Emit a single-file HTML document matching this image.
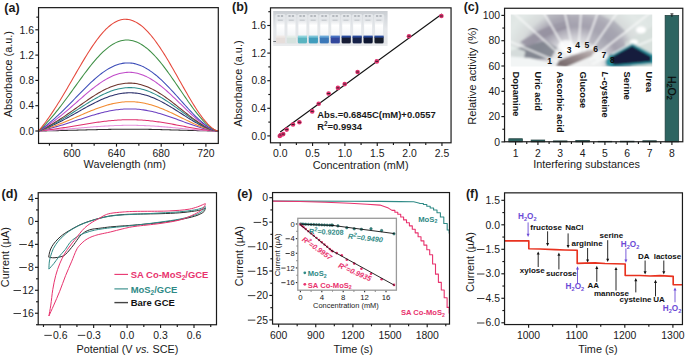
<!DOCTYPE html>
<html><head><meta charset="utf-8"><style>
html,body{margin:0;padding:0;background:#fff;overflow:hidden;width:685px;height:356px;}
svg{display:block;font-family:"Liberation Sans", sans-serif;}
</style></head><body>
<svg width="685" height="356" viewBox="0 0 685 356">
<rect width="685" height="356" fill="#fff"/>
<text x="4.30" y="11.50" font-size="12.5" text-anchor="start" font-weight="bold" fill="#1a1a1a" >(a)</text>
<polyline points="38.55,131.00 40.05,130.97 41.55,130.95 43.04,130.92 44.54,130.89 46.04,130.87 47.54,130.84 49.04,130.81 50.53,130.78 52.03,130.74 53.53,130.71 55.03,130.68 56.52,130.64 58.02,130.61 59.52,130.57 61.02,130.54 62.52,130.50 64.01,130.46 65.51,130.43 67.01,130.39 68.51,130.35 70.01,130.31 71.50,130.27 73.00,130.23 74.50,130.19 76.00,130.15 77.50,130.11 78.99,130.07 80.49,130.03 81.99,129.99 83.49,129.95 84.99,129.91 86.48,129.88 87.98,129.84 89.48,129.80 90.98,129.76 92.47,129.72 93.97,129.69 95.47,129.65 96.97,129.62 98.47,129.58 99.96,129.55 101.46,129.52 102.96,129.49 104.46,129.46 105.96,129.43 107.45,129.41 108.95,129.38 110.45,129.36 111.95,129.33 113.45,129.31 114.94,129.29 116.44,129.28 117.94,129.26 119.44,129.25 120.94,129.23 122.43,129.22 123.93,129.22 125.43,129.21 126.93,129.20 128.43,129.20 129.92,129.20 131.42,129.20 132.92,129.20 134.42,129.21 135.91,129.22 137.41,129.22 138.91,129.24 140.41,129.25 141.91,129.26 143.40,129.28 144.90,129.30 146.40,129.32 147.90,129.34 149.40,129.37 150.89,129.39 152.39,129.42 153.89,129.45 155.39,129.48 156.89,129.51 158.38,129.55 159.88,129.58 161.38,129.62 162.88,129.65 164.38,129.69 165.87,129.73 167.37,129.77 168.87,129.81 170.37,129.86 171.86,129.90 173.36,129.94 174.86,129.99 176.36,130.03 177.86,130.08 179.35,130.12 180.85,130.17 182.35,130.21 183.85,130.26 185.35,130.30 186.84,130.35 188.34,130.39 189.84,130.43 191.34,130.48 192.84,130.52 194.33,130.56 195.83,130.60 197.33,130.64 198.83,130.68 200.32,130.72 201.82,130.75 203.32,130.79 204.82,130.82 206.32,130.85 207.81,130.88 209.31,130.90 210.81,130.93 212.31,130.95 213.81,130.97 215.30,130.98 216.80,130.99 218.30,131.00" fill="none" stroke="#333333" stroke-width="1.05" stroke-linejoin="round" />
<polyline points="38.55,131.00 40.05,130.92 41.55,130.84 43.04,130.75 44.54,130.67 46.04,130.58 47.54,130.48 49.04,130.39 50.53,130.29 52.03,130.19 53.53,130.09 55.03,129.98 56.52,129.87 58.02,129.76 59.52,129.65 61.02,129.54 62.52,129.42 64.01,129.30 65.51,129.19 67.01,129.07 68.51,128.94 70.01,128.82 71.50,128.70 73.00,128.57 74.50,128.45 76.00,128.32 77.50,128.19 78.99,128.07 80.49,127.94 81.99,127.81 83.49,127.69 84.99,127.56 86.48,127.44 87.98,127.32 89.48,127.20 90.98,127.08 92.47,126.96 93.97,126.85 95.47,126.73 96.97,126.62 98.47,126.52 99.96,126.41 101.46,126.31 102.96,126.22 104.46,126.12 105.96,126.03 107.45,125.95 108.95,125.87 110.45,125.79 111.95,125.72 113.45,125.66 114.94,125.60 116.44,125.54 117.94,125.49 119.44,125.45 120.94,125.41 122.43,125.38 123.93,125.35 125.43,125.33 126.93,125.31 128.43,125.30 129.92,125.30 131.42,125.30 132.92,125.31 134.42,125.33 135.91,125.35 137.41,125.38 138.91,125.41 140.41,125.46 141.91,125.50 143.40,125.56 144.90,125.62 146.40,125.68 147.90,125.75 149.40,125.83 150.89,125.91 152.39,126.00 153.89,126.09 155.39,126.19 156.89,126.29 158.38,126.39 159.88,126.51 161.38,126.62 162.88,126.74 164.38,126.86 165.87,126.99 167.37,127.11 168.87,127.25 170.37,127.38 171.86,127.52 173.36,127.65 174.86,127.79 176.36,127.93 177.86,128.08 179.35,128.22 180.85,128.36 182.35,128.50 183.85,128.65 185.35,128.79 186.84,128.93 188.34,129.07 189.84,129.21 191.34,129.35 192.84,129.48 194.33,129.61 195.83,129.74 197.33,129.87 198.83,129.99 200.32,130.11 201.82,130.22 203.32,130.33 204.82,130.43 206.32,130.53 207.81,130.62 209.31,130.70 210.81,130.77 212.31,130.84 213.81,130.90 215.30,130.95 216.80,130.98 218.30,131.00" fill="none" stroke="#e592dc" stroke-width="1.05" stroke-linejoin="round" />
<polyline points="38.55,131.00 40.05,130.84 41.55,130.68 43.04,130.51 44.54,130.34 46.04,130.16 47.54,129.98 49.04,129.79 50.53,129.59 52.03,129.39 53.53,129.19 55.03,128.98 56.52,128.77 58.02,128.55 59.52,128.33 61.02,128.10 62.52,127.87 64.01,127.64 65.51,127.40 67.01,127.16 68.51,126.92 70.01,126.68 71.50,126.43 73.00,126.18 74.50,125.93 76.00,125.68 77.50,125.43 78.99,125.18 80.49,124.93 81.99,124.68 83.49,124.43 84.99,124.19 86.48,123.94 87.98,123.70 89.48,123.46 90.98,123.22 92.47,122.99 93.97,122.76 95.47,122.54 96.97,122.32 98.47,122.11 99.96,121.91 101.46,121.71 102.96,121.52 104.46,121.33 105.96,121.16 107.45,120.99 108.95,120.83 110.45,120.68 111.95,120.54 113.45,120.41 114.94,120.29 116.44,120.18 117.94,120.08 119.44,119.99 120.94,119.92 122.43,119.85 123.93,119.80 125.43,119.76 126.93,119.73 128.43,119.71 129.92,119.70 131.42,119.71 132.92,119.72 134.42,119.76 135.91,119.80 137.41,119.86 138.91,119.93 140.41,120.01 141.91,120.10 143.40,120.21 144.90,120.32 146.40,120.45 147.90,120.59 149.40,120.75 150.89,120.91 152.39,121.08 153.89,121.26 155.39,121.46 156.89,121.66 158.38,121.87 159.88,122.09 161.38,122.32 162.88,122.55 164.38,122.79 165.87,123.04 167.37,123.30 168.87,123.56 170.37,123.82 171.86,124.09 173.36,124.36 174.86,124.64 176.36,124.92 177.86,125.20 179.35,125.48 180.85,125.77 182.35,126.05 183.85,126.34 185.35,126.62 186.84,126.90 188.34,127.18 189.84,127.45 191.34,127.72 192.84,127.99 194.33,128.25 195.83,128.50 197.33,128.75 198.83,128.99 200.32,129.23 201.82,129.45 203.32,129.66 204.82,129.87 206.32,130.06 207.81,130.24 209.31,130.40 210.81,130.55 212.31,130.69 213.81,130.80 215.30,130.90 216.80,130.97 218.30,131.00" fill="none" stroke="#e0306e" stroke-width="1.05" stroke-linejoin="round" />
<polyline points="38.55,131.00 40.05,130.69 41.55,130.37 43.04,130.04 44.54,129.70 46.04,129.36 47.54,129.00 49.04,128.63 50.53,128.25 52.03,127.86 53.53,127.46 55.03,127.05 56.52,126.63 58.02,126.21 59.52,125.77 61.02,125.33 62.52,124.88 64.01,124.43 65.51,123.97 67.01,123.50 68.51,123.03 70.01,122.55 71.50,122.07 73.00,121.58 74.50,121.09 76.00,120.60 77.50,120.11 78.99,119.62 80.49,119.13 81.99,118.65 83.49,118.16 84.99,117.68 86.48,117.20 87.98,116.72 89.48,116.25 90.98,115.79 92.47,115.34 93.97,114.89 95.47,114.46 96.97,114.03 98.47,113.62 99.96,113.21 101.46,112.83 102.96,112.45 104.46,112.09 105.96,111.75 107.45,111.42 108.95,111.11 110.45,110.82 111.95,110.54 113.45,110.29 114.94,110.05 116.44,109.84 117.94,109.65 119.44,109.47 120.94,109.32 122.43,109.20 123.93,109.09 125.43,109.01 126.93,108.95 128.43,108.91 129.92,108.90 131.42,108.91 132.92,108.95 134.42,109.01 135.91,109.10 137.41,109.21 138.91,109.34 140.41,109.50 141.91,109.68 143.40,109.89 144.90,110.12 146.40,110.38 147.90,110.65 149.40,110.95 150.89,111.26 152.39,111.60 153.89,111.96 155.39,112.34 156.89,112.73 158.38,113.14 159.88,113.57 161.38,114.02 162.88,114.48 164.38,114.95 165.87,115.44 167.37,115.93 168.87,116.44 170.37,116.96 171.86,117.49 173.36,118.02 174.86,118.56 176.36,119.11 177.86,119.66 179.35,120.21 180.85,120.77 182.35,121.32 183.85,121.88 185.35,122.43 186.84,122.98 188.34,123.52 189.84,124.06 191.34,124.59 192.84,125.11 194.33,125.62 195.83,126.12 197.33,126.60 198.83,127.08 200.32,127.53 201.82,127.97 203.32,128.39 204.82,128.78 206.32,129.16 207.81,129.51 209.31,129.83 210.81,130.13 212.31,130.39 213.81,130.61 215.30,130.80 216.80,130.93 218.30,131.00" fill="none" stroke="#6b3fc1" stroke-width="1.05" stroke-linejoin="round" />
<polyline points="38.55,131.00 40.05,130.59 41.55,130.17 43.04,129.73 44.54,129.28 46.04,128.82 47.54,128.34 49.04,127.85 50.53,127.35 52.03,126.83 53.53,126.30 55.03,125.76 56.52,125.21 58.02,124.65 59.52,124.07 61.02,123.49 62.52,122.89 64.01,122.29 65.51,121.67 67.01,121.05 68.51,120.43 70.01,119.79 71.50,119.16 73.00,118.51 74.50,117.87 76.00,117.22 77.50,116.57 78.99,115.92 80.49,115.27 81.99,114.62 83.49,113.98 84.99,113.33 86.48,112.70 87.98,112.07 89.48,111.45 90.98,110.84 92.47,110.23 93.97,109.64 95.47,109.07 96.97,108.50 98.47,107.95 99.96,107.42 101.46,106.90 102.96,106.41 104.46,105.93 105.96,105.47 107.45,105.04 108.95,104.63 110.45,104.24 111.95,103.88 113.45,103.54 114.94,103.23 116.44,102.94 117.94,102.69 119.44,102.46 120.94,102.26 122.43,102.09 123.93,101.95 125.43,101.84 126.93,101.76 128.43,101.72 129.92,101.70 131.42,101.71 132.92,101.76 134.42,101.84 135.91,101.96 137.41,102.11 138.91,102.29 140.41,102.50 141.91,102.74 143.40,103.02 144.90,103.32 146.40,103.66 147.90,104.02 149.40,104.41 150.89,104.83 152.39,105.28 153.89,105.76 155.39,106.26 156.89,106.78 158.38,107.33 159.88,107.90 161.38,108.49 162.88,109.09 164.38,109.72 165.87,110.37 167.37,111.03 168.87,111.70 170.37,112.39 171.86,113.09 173.36,113.80 174.86,114.51 176.36,115.24 177.86,115.97 179.35,116.70 180.85,117.43 182.35,118.17 183.85,118.90 185.35,119.64 186.84,120.36 188.34,121.08 189.84,121.80 191.34,122.50 192.84,123.19 194.33,123.87 195.83,124.53 197.33,125.17 198.83,125.80 200.32,126.40 201.82,126.98 203.32,127.54 204.82,128.06 206.32,128.56 207.81,129.02 209.31,129.45 210.81,129.84 212.31,130.19 213.81,130.49 215.30,130.73 216.80,130.91 218.30,131.00" fill="none" stroke="#f28a2e" stroke-width="1.05" stroke-linejoin="round" />
<polyline points="38.55,131.00 40.05,130.47 41.55,129.92 43.04,129.35 44.54,128.76 46.04,128.16 47.54,127.54 49.04,126.90 50.53,126.24 52.03,125.57 53.53,124.88 55.03,124.17 56.52,123.45 58.02,122.72 59.52,121.97 61.02,121.20 62.52,120.43 64.01,119.64 65.51,118.84 67.01,118.03 68.51,117.22 70.01,116.39 71.50,115.56 73.00,114.72 74.50,113.88 76.00,113.03 77.50,112.18 78.99,111.34 80.49,110.49 81.99,109.64 83.49,108.80 84.99,107.97 86.48,107.14 87.98,106.32 89.48,105.51 90.98,104.71 92.47,103.93 93.97,103.16 95.47,102.40 96.97,101.67 98.47,100.95 99.96,100.26 101.46,99.59 102.96,98.94 104.46,98.32 105.96,97.72 107.45,97.15 108.95,96.62 110.45,96.11 111.95,95.64 113.45,95.20 114.94,94.79 116.44,94.42 117.94,94.09 119.44,93.79 120.94,93.53 122.43,93.31 123.93,93.13 125.43,92.99 126.93,92.88 128.43,92.82 129.92,92.80 131.42,92.82 132.92,92.88 134.42,92.99 135.91,93.14 137.41,93.33 138.91,93.56 140.41,93.84 141.91,94.16 143.40,94.51 144.90,94.91 146.40,95.35 147.90,95.83 149.40,96.34 150.89,96.89 152.39,97.47 153.89,98.09 155.39,98.74 156.89,99.42 158.38,100.14 159.88,100.88 161.38,101.65 162.88,102.44 164.38,103.26 165.87,104.10 167.37,104.96 168.87,105.84 170.37,106.73 171.86,107.65 173.36,108.57 174.86,109.50 176.36,110.45 177.86,111.40 179.35,112.36 180.85,113.31 182.35,114.27 183.85,115.23 185.35,116.18 186.84,117.13 188.34,118.07 189.84,119.00 191.34,119.92 192.84,120.82 194.33,121.70 195.83,122.56 197.33,123.40 198.83,124.22 200.32,125.00 201.82,125.76 203.32,126.48 204.82,127.17 206.32,127.82 207.81,128.42 209.31,128.98 210.81,129.49 212.31,129.94 213.81,130.33 215.30,130.65 216.80,130.88 218.30,131.00" fill="none" stroke="#2b2f6b" stroke-width="1.05" stroke-linejoin="round" />
<polyline points="38.55,131.00 40.05,130.39 41.55,129.77 43.04,129.12 44.54,128.46 46.04,127.77 47.54,127.06 49.04,126.34 50.53,125.59 52.03,124.83 53.53,124.04 55.03,123.24 56.52,122.42 58.02,121.59 59.52,120.74 61.02,119.87 62.52,118.99 64.01,118.09 65.51,117.19 67.01,116.27 68.51,115.34 70.01,114.40 71.50,113.46 73.00,112.50 74.50,111.55 76.00,110.59 77.50,109.62 78.99,108.66 80.49,107.70 81.99,106.74 83.49,105.78 84.99,104.83 86.48,103.89 87.98,102.96 89.48,102.04 90.98,101.13 92.47,100.24 93.97,99.37 95.47,98.51 96.97,97.68 98.47,96.86 99.96,96.07 101.46,95.31 102.96,94.57 104.46,93.87 105.96,93.19 107.45,92.55 108.95,91.94 110.45,91.36 111.95,90.82 113.45,90.32 114.94,89.86 116.44,89.44 117.94,89.06 119.44,88.73 120.94,88.43 122.43,88.18 123.93,87.97 125.43,87.81 126.93,87.70 128.43,87.63 129.92,87.60 131.42,87.62 132.92,87.69 134.42,87.81 135.91,87.98 137.41,88.20 138.91,88.47 140.41,88.78 141.91,89.14 143.40,89.55 144.90,90.00 146.40,90.50 147.90,91.04 149.40,91.62 150.89,92.24 152.39,92.91 153.89,93.61 155.39,94.35 156.89,95.13 158.38,95.94 159.88,96.78 161.38,97.65 162.88,98.55 164.38,99.48 165.87,100.44 167.37,101.41 168.87,102.41 170.37,103.43 171.86,104.47 173.36,105.52 174.86,106.58 176.36,107.65 177.86,108.73 179.35,109.82 180.85,110.91 182.35,112.00 183.85,113.08 185.35,114.17 186.84,115.24 188.34,116.31 189.84,117.37 191.34,118.41 192.84,119.43 194.33,120.43 195.83,121.41 197.33,122.37 198.83,123.29 200.32,124.19 201.82,125.05 203.32,125.87 204.82,126.65 206.32,127.38 207.81,128.07 209.31,128.71 210.81,129.28 212.31,129.80 213.81,130.24 215.30,130.60 216.80,130.87 218.30,131.00" fill="none" stroke="#2c8c8a" stroke-width="1.05" stroke-linejoin="round" />
<polyline points="38.55,131.00 40.05,130.32 41.55,129.62 43.04,128.90 44.54,128.15 46.04,127.38 47.54,126.59 49.04,125.78 50.53,124.94 52.03,124.09 53.53,123.21 55.03,122.32 56.52,121.41 58.02,120.47 59.52,119.52 61.02,118.56 62.52,117.57 64.01,116.58 65.51,115.57 67.01,114.54 68.51,113.51 70.01,112.47 71.50,111.42 73.00,110.36 74.50,109.30 76.00,108.23 77.50,107.16 78.99,106.09 80.49,105.03 81.99,103.97 83.49,102.91 84.99,101.86 86.48,100.82 87.98,99.79 89.48,98.77 90.98,97.77 92.47,96.79 93.97,95.83 95.47,94.89 96.97,93.97 98.47,93.07 99.96,92.21 101.46,91.37 102.96,90.57 104.46,89.79 105.96,89.06 107.45,88.36 108.95,87.69 110.45,87.07 111.95,86.49 113.45,85.95 114.94,85.45 116.44,85.00 117.94,84.59 119.44,84.23 120.94,83.92 122.43,83.66 123.93,83.45 125.43,83.29 126.93,83.17 128.43,83.11 129.92,83.10 131.42,83.14 132.92,83.24 134.42,83.39 135.91,83.59 137.41,83.85 138.91,84.15 140.41,84.51 141.91,84.92 143.40,85.39 144.90,85.90 146.40,86.45 147.90,87.06 149.40,87.71 150.89,88.41 152.39,89.15 153.89,89.93 155.39,90.75 156.89,91.61 158.38,92.51 159.88,93.44 161.38,94.40 162.88,95.40 164.38,96.43 165.87,97.48 167.37,98.56 168.87,99.66 170.37,100.78 171.86,101.92 173.36,103.07 174.86,104.24 176.36,105.42 177.86,106.60 179.35,107.80 180.85,108.99 182.35,110.19 183.85,111.38 185.35,112.57 186.84,113.75 188.34,114.92 189.84,116.08 191.34,117.22 192.84,118.34 194.33,119.44 195.83,120.51 197.33,121.55 198.83,122.57 200.32,123.55 201.82,124.49 203.32,125.39 204.82,126.24 206.32,127.04 207.81,127.80 209.31,128.49 210.81,129.12 212.31,129.68 213.81,130.17 215.30,130.56 216.80,130.86 218.30,131.00" fill="none" stroke="#6e342c" stroke-width="1.05" stroke-linejoin="round" />
<polyline points="38.55,131.00 40.05,130.16 41.55,129.28 43.04,128.38 44.54,127.45 46.04,126.50 47.54,125.52 49.04,124.51 50.53,123.47 52.03,122.41 53.53,121.32 55.03,120.21 56.52,119.08 58.02,117.93 59.52,116.75 61.02,115.55 62.52,114.34 64.01,113.10 65.51,111.86 67.01,110.59 68.51,109.32 70.01,108.03 71.50,106.73 73.00,105.43 74.50,104.12 76.00,102.80 77.50,101.49 78.99,100.17 80.49,98.86 81.99,97.55 83.49,96.26 84.99,94.97 86.48,93.69 87.98,92.43 89.48,91.18 90.98,89.96 92.47,88.76 93.97,87.58 95.47,86.43 96.97,85.31 98.47,84.22 99.96,83.17 101.46,82.15 102.96,81.17 104.46,80.23 105.96,79.34 107.45,78.49 108.95,77.69 110.45,76.94 111.95,76.24 113.45,75.59 114.94,75.00 116.44,74.46 117.94,73.98 119.44,73.56 120.94,73.20 122.43,72.90 123.93,72.66 125.43,72.48 126.93,72.36 128.43,72.30 129.92,72.31 131.42,72.39 132.92,72.52 134.42,72.73 135.91,72.99 137.41,73.32 138.91,73.72 140.41,74.17 141.91,74.69 143.40,75.27 144.90,75.91 146.40,76.60 147.90,77.36 149.40,78.16 150.89,79.03 152.39,79.94 153.89,80.90 155.39,81.92 156.89,82.98 158.38,84.08 159.88,85.22 161.38,86.41 162.88,87.63 164.38,88.89 165.87,90.18 167.37,91.50 168.87,92.84 170.37,94.21 171.86,95.60 173.36,97.01 174.86,98.44 176.36,99.88 177.86,101.32 179.35,102.78 180.85,104.24 182.35,105.69 183.85,107.15 185.35,108.59 186.84,110.03 188.34,111.46 189.84,112.86 191.34,114.25 192.84,115.61 194.33,116.95 195.83,118.25 197.33,119.52 198.83,120.75 200.32,121.94 201.82,123.09 203.32,124.18 204.82,125.22 206.32,126.20 207.81,127.11 209.31,127.95 210.81,128.72 212.31,129.40 213.81,129.99 215.30,130.47 216.80,130.83 218.30,131.00" fill="none" stroke="#c04bc9" stroke-width="1.05" stroke-linejoin="round" />
<polyline points="38.55,131.00 40.05,129.98 41.55,128.93 43.04,127.85 44.54,126.73 46.04,125.59 47.54,124.41 49.04,123.20 50.53,121.96 52.03,120.69 53.53,119.40 55.03,118.07 56.52,116.72 58.02,115.34 59.52,113.94 61.02,112.52 62.52,111.08 64.01,109.62 65.51,108.14 67.01,106.64 68.51,105.13 70.01,103.61 71.50,102.08 73.00,100.55 74.50,99.00 76.00,97.46 77.50,95.92 78.99,94.38 80.49,92.84 81.99,91.32 83.49,89.80 84.99,88.30 86.48,86.82 87.98,85.35 89.48,83.91 90.98,82.49 92.47,81.11 93.97,79.75 95.47,78.43 96.97,77.14 98.47,75.90 99.96,74.69 101.46,73.54 102.96,72.43 104.46,71.37 105.96,70.36 107.45,69.41 108.95,68.52 110.45,67.68 111.95,66.91 113.45,66.20 114.94,65.56 116.44,64.98 117.94,64.47 119.44,64.04 120.94,63.67 122.43,63.37 123.93,63.14 125.43,62.99 126.93,62.91 128.43,62.91 129.92,62.97 131.42,63.11 132.92,63.33 134.42,63.62 135.91,63.98 137.41,64.41 138.91,64.91 140.41,65.48 141.91,66.12 143.40,66.83 144.90,67.60 146.40,68.44 147.90,69.34 149.40,70.31 150.89,71.33 152.39,72.41 153.89,73.55 155.39,74.73 156.89,75.97 158.38,77.26 159.88,78.60 161.38,79.98 162.88,81.40 164.38,82.85 165.87,84.35 167.37,85.87 168.87,87.42 170.37,89.00 171.86,90.60 173.36,92.23 174.86,93.86 176.36,95.52 177.86,97.18 179.35,98.84 180.85,100.51 182.35,102.18 183.85,103.84 185.35,105.49 186.84,107.14 188.34,108.76 189.84,110.37 191.34,111.95 192.84,113.50 194.33,115.02 195.83,116.51 197.33,117.95 198.83,119.36 200.32,120.71 201.82,122.01 203.32,123.25 204.82,124.43 206.32,125.54 207.81,126.58 209.31,127.54 210.81,128.41 212.31,129.18 213.81,129.85 215.30,130.40 216.80,130.80 218.30,131.00" fill="none" stroke="#3b4cb8" stroke-width="1.05" stroke-linejoin="round" />
<polyline points="38.55,131.00 40.05,129.60 41.55,128.16 43.04,126.67 44.54,125.14 46.04,123.57 47.54,121.96 49.04,120.30 50.53,118.61 52.03,116.88 53.53,115.10 55.03,113.30 56.52,111.45 58.02,109.58 59.52,107.67 61.02,105.74 62.52,103.78 64.01,101.79 65.51,99.78 67.01,97.76 68.51,95.71 70.01,93.65 71.50,91.59 73.00,89.51 74.50,87.43 76.00,85.35 77.50,83.27 78.99,81.20 80.49,79.14 81.99,77.09 83.49,75.05 84.99,73.04 86.48,71.06 87.98,69.10 89.48,67.18 90.98,65.29 92.47,63.44 93.97,61.64 95.47,59.89 96.97,58.19 98.47,56.54 99.96,54.96 101.46,53.43 102.96,51.98 104.46,50.59 105.96,49.28 107.45,48.05 108.95,46.89 110.45,45.81 111.95,44.82 113.45,43.92 114.94,43.11 116.44,42.39 117.94,41.76 119.44,41.22 120.94,40.78 122.43,40.44 123.93,40.19 125.43,40.05 126.93,40.00 128.43,40.05 129.92,40.20 131.42,40.44 132.92,40.78 134.42,41.21 135.91,41.74 137.41,42.36 138.91,43.07 140.41,43.87 141.91,44.77 143.40,45.75 144.90,46.81 146.40,47.96 147.90,49.20 149.40,50.51 150.89,51.89 152.39,53.36 153.89,54.89 155.39,56.49 156.89,58.16 158.38,59.89 159.88,61.68 161.38,63.52 162.88,65.42 164.38,67.36 165.87,69.35 167.37,71.38 168.87,73.45 170.37,75.55 171.86,77.68 173.36,79.83 174.86,82.01 176.36,84.19 177.86,86.39 179.35,88.60 180.85,90.81 182.35,93.01 183.85,95.21 185.35,97.39 186.84,99.56 188.34,101.71 189.84,103.82 191.34,105.91 192.84,107.96 194.33,109.97 195.83,111.92 197.33,113.83 198.83,115.68 200.32,117.46 201.82,119.17 203.32,120.80 204.82,122.36 206.32,123.82 207.81,125.19 209.31,126.45 210.81,127.59 212.31,128.61 213.81,129.49 215.30,130.21 216.80,130.74 218.30,131.00" fill="none" stroke="#3e8f45" stroke-width="1.05" stroke-linejoin="round" />
<polyline points="38.55,131.00 40.05,129.20 41.55,127.34 43.04,125.43 44.54,123.46 46.04,121.44 47.54,119.37 49.04,117.26 50.53,115.09 52.03,112.88 53.53,110.62 55.03,108.32 56.52,105.97 58.02,103.59 59.52,101.18 61.02,98.73 62.52,96.25 64.01,93.74 65.51,91.21 67.01,88.65 68.51,86.08 70.01,83.50 71.50,80.91 73.00,78.31 74.50,75.72 76.00,73.12 77.50,70.54 78.99,67.97 80.49,65.41 81.99,62.87 83.49,60.37 84.99,57.89 86.48,55.45 87.98,53.05 89.48,50.70 90.98,48.40 92.47,46.16 93.97,43.97 95.47,41.85 96.97,39.81 98.47,37.83 99.96,35.94 101.46,34.13 102.96,32.41 104.46,30.77 105.96,29.24 107.45,27.80 108.95,26.47 110.45,25.24 111.95,24.12 113.45,23.11 114.94,22.22 116.44,21.44 117.94,20.78 119.44,20.24 120.94,19.82 122.43,19.53 123.93,19.35 125.43,19.30 126.93,19.37 128.43,19.55 129.92,19.84 131.42,20.25 132.92,20.77 134.42,21.41 135.91,22.15 137.41,23.00 138.91,23.96 140.41,25.03 141.91,26.20 143.40,27.47 144.90,28.85 146.40,30.32 147.90,31.88 149.40,33.54 150.89,35.28 152.39,37.11 153.89,39.02 155.39,41.01 156.89,43.08 158.38,45.22 159.88,47.42 161.38,49.69 162.88,52.01 164.38,54.40 165.87,56.83 167.37,59.30 168.87,61.82 170.37,64.37 171.86,66.96 173.36,69.57 174.86,72.20 176.36,74.85 177.86,77.50 179.35,80.17 180.85,82.83 182.35,85.49 183.85,88.13 185.35,90.76 186.84,93.36 188.34,95.94 189.84,98.48 191.34,100.99 192.84,103.44 194.33,105.85 195.83,108.19 197.33,110.48 198.83,112.69 200.32,114.82 201.82,116.87 203.32,118.82 204.82,120.68 206.32,122.42 207.81,124.06 209.31,125.56 210.81,126.93 212.31,128.15 213.81,129.20 215.30,130.06 216.80,130.69 218.30,131.00" fill="none" stroke="#e5473a" stroke-width="1.05" stroke-linejoin="round" />
<line x1="35.35" y1="131.00" x2="38.55" y2="131.00" stroke="#1a1a1a" stroke-width="1.15"/>
<line x1="35.35" y1="105.70" x2="38.55" y2="105.70" stroke="#1a1a1a" stroke-width="1.15"/>
<line x1="35.35" y1="80.40" x2="38.55" y2="80.40" stroke="#1a1a1a" stroke-width="1.15"/>
<line x1="35.35" y1="55.10" x2="38.55" y2="55.10" stroke="#1a1a1a" stroke-width="1.15"/>
<line x1="35.35" y1="29.80" x2="38.55" y2="29.80" stroke="#1a1a1a" stroke-width="1.15"/>
<line x1="36.35" y1="118.35" x2="38.55" y2="118.35" stroke="#1a1a1a" stroke-width="1.15"/>
<line x1="36.35" y1="93.05" x2="38.55" y2="93.05" stroke="#1a1a1a" stroke-width="1.15"/>
<line x1="36.35" y1="67.75" x2="38.55" y2="67.75" stroke="#1a1a1a" stroke-width="1.15"/>
<line x1="36.35" y1="42.45" x2="38.55" y2="42.45" stroke="#1a1a1a" stroke-width="1.15"/>
<line x1="36.35" y1="17.15" x2="38.55" y2="17.15" stroke="#1a1a1a" stroke-width="1.15"/>
<text x="34.05" y="134.70" font-size="10.4" text-anchor="end" font-weight="normal" fill="#1a1a1a" >0.0</text>
<text x="34.05" y="109.40" font-size="10.4" text-anchor="end" font-weight="normal" fill="#1a1a1a" >0.4</text>
<text x="34.05" y="84.10" font-size="10.4" text-anchor="end" font-weight="normal" fill="#1a1a1a" >0.8</text>
<text x="34.05" y="58.80" font-size="10.4" text-anchor="end" font-weight="normal" fill="#1a1a1a" >1.2</text>
<text x="34.05" y="33.50" font-size="10.4" text-anchor="end" font-weight="normal" fill="#1a1a1a" >1.6</text>
<line x1="71.80" y1="143.45" x2="71.80" y2="146.65" stroke="#1a1a1a" stroke-width="1.15"/>
<line x1="116.50" y1="143.45" x2="116.50" y2="146.65" stroke="#1a1a1a" stroke-width="1.15"/>
<line x1="161.20" y1="143.45" x2="161.20" y2="146.65" stroke="#1a1a1a" stroke-width="1.15"/>
<line x1="205.90" y1="143.45" x2="205.90" y2="146.65" stroke="#1a1a1a" stroke-width="1.15"/>
<line x1="49.45" y1="143.45" x2="49.45" y2="145.65" stroke="#1a1a1a" stroke-width="1.15"/>
<line x1="94.15" y1="143.45" x2="94.15" y2="145.65" stroke="#1a1a1a" stroke-width="1.15"/>
<line x1="138.85" y1="143.45" x2="138.85" y2="145.65" stroke="#1a1a1a" stroke-width="1.15"/>
<line x1="183.55" y1="143.45" x2="183.55" y2="145.65" stroke="#1a1a1a" stroke-width="1.15"/>
<text x="71.80" y="157.00" font-size="10.4" text-anchor="middle" font-weight="normal" fill="#1a1a1a" >600</text>
<text x="116.50" y="157.00" font-size="10.4" text-anchor="middle" font-weight="normal" fill="#1a1a1a" >640</text>
<text x="161.20" y="157.00" font-size="10.4" text-anchor="middle" font-weight="normal" fill="#1a1a1a" >680</text>
<text x="205.90" y="157.00" font-size="10.4" text-anchor="middle" font-weight="normal" fill="#1a1a1a" >720</text>
<text x="124.70" y="167.80" font-size="10.85" text-anchor="middle" font-weight="normal" fill="#1a1a1a" >Wavelength (nm)</text>
<text x="0" y="0" font-size="10.85" text-anchor="middle" font-weight="normal" fill="#1a1a1a" transform="translate(12.30,74.20) rotate(-90)">Absorbance (a.u.)</text>
<rect x="38.55" y="7.65" width="179.75" height="135.80" fill="none" stroke="#1a1a1a" stroke-width="1.2"/>
<text x="232.00" y="11.40" font-size="12.5" text-anchor="start" font-weight="bold" fill="#1a1a1a" >(b)</text>
<defs><linearGradient id="pbg" x1="0" y1="0" x2="0" y2="1"><stop offset="0" stop-color="#c4c8cd"/><stop offset="0.2" stop-color="#d2d6da"/><stop offset="0.5" stop-color="#e6e8eb"/><stop offset="1" stop-color="#dfe1e3"/></linearGradient><linearGradient id="vial" x1="0" y1="0" x2="1" y2="0"><stop offset="0" stop-color="#d8dce0"/><stop offset="0.3" stop-color="#ffffff"/><stop offset="0.7" stop-color="#f4f6f8"/><stop offset="1" stop-color="#cfd4d8"/></linearGradient></defs>
<defs><clipPath id="bphoto"><rect x="273.2" y="11.1" width="114.4" height="35.0"/></clipPath><filter id="blurb" x="-5%" y="-5%" width="110%" height="110%"><feGaussianBlur stdDeviation="0.55"/></filter><linearGradient id="vialg" x1="0" y1="0" x2="0" y2="1"><stop offset="0" stop-color="#dfe2e6"/><stop offset="0.35" stop-color="#ffffff"/><stop offset="1" stop-color="#f2f4f6"/></linearGradient></defs>
<g clip-path="url(#bphoto)"><g filter="url(#blurb)">
<rect x="270" y="8" width="120" height="42" fill="url(#pbg)"/>
<rect x="275.30" y="14" width="10.4" height="30" rx="2" fill="#e4e7ea"/>
<rect x="276.50" y="19.5" width="8" height="17" fill="url(#vialg)"/>
<rect x="277.50" y="15.2" width="2.2" height="1.6" fill="#a9adb3"/>
<rect x="280.90" y="15.2" width="2.2" height="1.6" fill="#a9adb3"/>
<rect x="277.80" y="19.6" width="5" height="1.2" fill="#c4c8cc"/>
<rect x="275.90" y="36.0" width="9.2" height="7.6" rx="1.5" fill="#e6dedb"/>
<rect x="275.90" y="35.6" width="9.2" height="2.0" fill="#efe9e6"/>
<rect x="286.25" y="14" width="10.4" height="30" rx="2" fill="#e4e7ea"/>
<rect x="287.45" y="19.5" width="8" height="17" fill="url(#vialg)"/>
<rect x="288.45" y="15.2" width="2.2" height="1.6" fill="#a9adb3"/>
<rect x="291.85" y="15.2" width="2.2" height="1.6" fill="#a9adb3"/>
<rect x="288.75" y="19.6" width="5" height="1.2" fill="#c4c8cc"/>
<rect x="286.85" y="36.0" width="9.2" height="7.6" rx="1.5" fill="#d6e2de"/>
<rect x="286.85" y="35.6" width="9.2" height="2.0" fill="#e6eeea"/>
<rect x="297.20" y="14" width="10.4" height="30" rx="2" fill="#e4e7ea"/>
<rect x="298.40" y="19.5" width="8" height="17" fill="url(#vialg)"/>
<rect x="299.40" y="15.2" width="2.2" height="1.6" fill="#a9adb3"/>
<rect x="302.80" y="15.2" width="2.2" height="1.6" fill="#a9adb3"/>
<rect x="299.70" y="19.6" width="5" height="1.2" fill="#c4c8cc"/>
<rect x="297.80" y="36.0" width="9.2" height="7.6" rx="1.5" fill="#5ab4c0"/>
<rect x="297.80" y="35.6" width="9.2" height="2.0" fill="#8fd4dc"/>
<rect x="308.15" y="14" width="10.4" height="30" rx="2" fill="#e4e7ea"/>
<rect x="309.35" y="19.5" width="8" height="17" fill="url(#vialg)"/>
<rect x="310.35" y="15.2" width="2.2" height="1.6" fill="#a9adb3"/>
<rect x="313.75" y="15.2" width="2.2" height="1.6" fill="#a9adb3"/>
<rect x="310.65" y="19.6" width="5" height="1.2" fill="#c4c8cc"/>
<rect x="308.75" y="36.0" width="9.2" height="7.6" rx="1.5" fill="#3f9cbc"/>
<rect x="308.75" y="35.6" width="9.2" height="2.0" fill="#7cc4d8"/>
<rect x="319.10" y="14" width="10.4" height="30" rx="2" fill="#e4e7ea"/>
<rect x="320.30" y="19.5" width="8" height="17" fill="url(#vialg)"/>
<rect x="321.30" y="15.2" width="2.2" height="1.6" fill="#a9adb3"/>
<rect x="324.70" y="15.2" width="2.2" height="1.6" fill="#a9adb3"/>
<rect x="321.60" y="19.6" width="5" height="1.2" fill="#c4c8cc"/>
<rect x="319.70" y="36.0" width="9.2" height="7.6" rx="1.5" fill="#3a78b8"/>
<rect x="319.70" y="35.6" width="9.2" height="2.0" fill="#6aa8d8"/>
<rect x="330.05" y="14" width="10.4" height="30" rx="2" fill="#e4e7ea"/>
<rect x="331.25" y="19.5" width="8" height="17" fill="url(#vialg)"/>
<rect x="332.25" y="15.2" width="2.2" height="1.6" fill="#a9adb3"/>
<rect x="335.65" y="15.2" width="2.2" height="1.6" fill="#a9adb3"/>
<rect x="332.55" y="19.6" width="5" height="1.2" fill="#c4c8cc"/>
<rect x="330.65" y="36.0" width="9.2" height="7.6" rx="1.5" fill="#33469c"/>
<rect x="330.65" y="35.6" width="9.2" height="2.0" fill="#4a74c4"/>
<rect x="341.00" y="14" width="10.4" height="30" rx="2" fill="#e4e7ea"/>
<rect x="342.20" y="19.5" width="8" height="17" fill="url(#vialg)"/>
<rect x="343.20" y="15.2" width="2.2" height="1.6" fill="#a9adb3"/>
<rect x="346.60" y="15.2" width="2.2" height="1.6" fill="#a9adb3"/>
<rect x="343.50" y="19.6" width="5" height="1.2" fill="#c4c8cc"/>
<rect x="341.60" y="36.0" width="9.2" height="7.6" rx="1.5" fill="#121a34"/>
<rect x="341.60" y="35.6" width="9.2" height="2.0" fill="#2a4c9c"/>
<rect x="351.95" y="14" width="10.4" height="30" rx="2" fill="#e4e7ea"/>
<rect x="353.15" y="19.5" width="8" height="17" fill="url(#vialg)"/>
<rect x="354.15" y="15.2" width="2.2" height="1.6" fill="#a9adb3"/>
<rect x="357.55" y="15.2" width="2.2" height="1.6" fill="#a9adb3"/>
<rect x="354.45" y="19.6" width="5" height="1.2" fill="#c4c8cc"/>
<rect x="352.55" y="36.0" width="9.2" height="7.6" rx="1.5" fill="#16204a"/>
<rect x="352.55" y="35.6" width="9.2" height="2.0" fill="#2a4a9a"/>
<rect x="362.90" y="14" width="10.4" height="30" rx="2" fill="#e4e7ea"/>
<rect x="364.10" y="19.5" width="8" height="17" fill="url(#vialg)"/>
<rect x="365.10" y="15.2" width="2.2" height="1.6" fill="#a9adb3"/>
<rect x="368.50" y="15.2" width="2.2" height="1.6" fill="#a9adb3"/>
<rect x="365.40" y="19.6" width="5" height="1.2" fill="#c4c8cc"/>
<rect x="363.50" y="36.0" width="9.2" height="7.6" rx="1.5" fill="#0e1630"/>
<rect x="363.50" y="35.6" width="9.2" height="2.0" fill="#28489a"/>
<rect x="373.85" y="14" width="10.4" height="30" rx="2" fill="#e4e7ea"/>
<rect x="375.05" y="19.5" width="8" height="17" fill="url(#vialg)"/>
<rect x="376.05" y="15.2" width="2.2" height="1.6" fill="#a9adb3"/>
<rect x="379.45" y="15.2" width="2.2" height="1.6" fill="#a9adb3"/>
<rect x="376.35" y="19.6" width="5" height="1.2" fill="#c4c8cc"/>
<rect x="374.45" y="36.0" width="9.2" height="7.6" rx="1.5" fill="#121a2c"/>
<rect x="374.45" y="35.6" width="9.2" height="2.0" fill="#2a4c9c"/>
<rect x="270" y="41.0" width="6" height="0.9" fill="#6d6f73"/>
<rect x="270" y="43.8" width="120" height="3" fill="#e9ebed"/>
</g></g>
<line x1="280.20" y1="132.06" x2="441.95" y2="13.98" stroke="#111" stroke-width="1.1"/>
<circle cx="279.8" cy="136" r="2.3" fill="#e0306e"/>
<line x1="278.40000000000003" y1="136" x2="281.2" y2="136" stroke="#222" stroke-width="0.9"/>
<circle cx="280.8" cy="135" r="2.3" fill="#e0306e"/>
<line x1="279.40000000000003" y1="135" x2="282.2" y2="135" stroke="#222" stroke-width="0.9"/>
<circle cx="283.2" cy="134.1" r="2.3" fill="#e0306e"/>
<line x1="281.8" y1="134.1" x2="284.59999999999997" y2="134.1" stroke="#222" stroke-width="0.9"/>
<circle cx="286.7" cy="129.6" r="2.3" fill="#e0306e"/>
<line x1="285.3" y1="129.6" x2="288.09999999999997" y2="129.6" stroke="#222" stroke-width="0.9"/>
<circle cx="293" cy="124.5" r="2.3" fill="#e0306e"/>
<line x1="291.6" y1="124.5" x2="294.4" y2="124.5" stroke="#222" stroke-width="0.9"/>
<circle cx="299.4" cy="122.3" r="2.3" fill="#e0306e"/>
<line x1="298.0" y1="122.3" x2="300.79999999999995" y2="122.3" stroke="#222" stroke-width="0.9"/>
<circle cx="312.2" cy="111.4" r="2.3" fill="#e0306e"/>
<line x1="310.8" y1="111.4" x2="313.59999999999997" y2="111.4" stroke="#222" stroke-width="0.9"/>
<circle cx="318.7" cy="103.8" r="2.3" fill="#e0306e"/>
<line x1="317.3" y1="103.8" x2="320.09999999999997" y2="103.8" stroke="#222" stroke-width="0.9"/>
<circle cx="328.6" cy="93.5" r="2.3" fill="#e0306e"/>
<line x1="327.20000000000005" y1="93.5" x2="330.0" y2="93.5" stroke="#222" stroke-width="0.9"/>
<circle cx="337.9" cy="87.9" r="2.3" fill="#e0306e"/>
<line x1="336.5" y1="87.9" x2="339.29999999999995" y2="87.9" stroke="#222" stroke-width="0.9"/>
<circle cx="344.7" cy="84.1" r="2.3" fill="#e0306e"/>
<line x1="343.3" y1="84.1" x2="346.09999999999997" y2="84.1" stroke="#222" stroke-width="0.9"/>
<circle cx="357.6" cy="72" r="2.3" fill="#e0306e"/>
<line x1="356.20000000000005" y1="72" x2="359.0" y2="72" stroke="#222" stroke-width="0.9"/>
<circle cx="376.8" cy="61.4" r="2.3" fill="#e0306e"/>
<line x1="375.40000000000003" y1="61.4" x2="378.2" y2="61.4" stroke="#222" stroke-width="0.9"/>
<circle cx="409" cy="36.2" r="2.3" fill="#e0306e"/>
<line x1="407.6" y1="36.2" x2="410.4" y2="36.2" stroke="#222" stroke-width="0.9"/>
<circle cx="441.4" cy="16" r="2.3" fill="#e0306e"/>
<line x1="440.0" y1="16" x2="442.79999999999995" y2="16" stroke="#222" stroke-width="0.9"/>
<line x1="267.30" y1="135.90" x2="270.50" y2="135.90" stroke="#1a1a1a" stroke-width="1.15"/>
<line x1="267.30" y1="108.30" x2="270.50" y2="108.30" stroke="#1a1a1a" stroke-width="1.15"/>
<line x1="267.30" y1="80.70" x2="270.50" y2="80.70" stroke="#1a1a1a" stroke-width="1.15"/>
<line x1="267.30" y1="53.10" x2="270.50" y2="53.10" stroke="#1a1a1a" stroke-width="1.15"/>
<line x1="267.30" y1="25.50" x2="270.50" y2="25.50" stroke="#1a1a1a" stroke-width="1.15"/>
<line x1="268.30" y1="122.10" x2="270.50" y2="122.10" stroke="#1a1a1a" stroke-width="1.15"/>
<line x1="268.30" y1="94.50" x2="270.50" y2="94.50" stroke="#1a1a1a" stroke-width="1.15"/>
<line x1="268.30" y1="66.90" x2="270.50" y2="66.90" stroke="#1a1a1a" stroke-width="1.15"/>
<line x1="268.30" y1="39.30" x2="270.50" y2="39.30" stroke="#1a1a1a" stroke-width="1.15"/>
<line x1="268.30" y1="11.70" x2="270.50" y2="11.70" stroke="#1a1a1a" stroke-width="1.15"/>
<text x="266.00" y="139.60" font-size="10.4" text-anchor="end" font-weight="normal" fill="#1a1a1a" >0.0</text>
<text x="266.00" y="112.00" font-size="10.4" text-anchor="end" font-weight="normal" fill="#1a1a1a" >0.4</text>
<text x="266.00" y="84.40" font-size="10.4" text-anchor="end" font-weight="normal" fill="#1a1a1a" >0.8</text>
<text x="266.00" y="56.80" font-size="10.4" text-anchor="end" font-weight="normal" fill="#1a1a1a" >1.2</text>
<text x="266.00" y="29.20" font-size="10.4" text-anchor="end" font-weight="normal" fill="#1a1a1a" >1.6</text>
<line x1="280.20" y1="142.80" x2="280.20" y2="146.00" stroke="#1a1a1a" stroke-width="1.15"/>
<line x1="312.55" y1="142.80" x2="312.55" y2="146.00" stroke="#1a1a1a" stroke-width="1.15"/>
<line x1="344.90" y1="142.80" x2="344.90" y2="146.00" stroke="#1a1a1a" stroke-width="1.15"/>
<line x1="377.25" y1="142.80" x2="377.25" y2="146.00" stroke="#1a1a1a" stroke-width="1.15"/>
<line x1="409.60" y1="142.80" x2="409.60" y2="146.00" stroke="#1a1a1a" stroke-width="1.15"/>
<line x1="441.95" y1="142.80" x2="441.95" y2="146.00" stroke="#1a1a1a" stroke-width="1.15"/>
<line x1="296.38" y1="142.80" x2="296.38" y2="145.00" stroke="#1a1a1a" stroke-width="1.15"/>
<line x1="328.73" y1="142.80" x2="328.73" y2="145.00" stroke="#1a1a1a" stroke-width="1.15"/>
<line x1="361.07" y1="142.80" x2="361.07" y2="145.00" stroke="#1a1a1a" stroke-width="1.15"/>
<line x1="393.43" y1="142.80" x2="393.43" y2="145.00" stroke="#1a1a1a" stroke-width="1.15"/>
<line x1="425.77" y1="142.80" x2="425.77" y2="145.00" stroke="#1a1a1a" stroke-width="1.15"/>
<text x="280.20" y="156.80" font-size="10.4" text-anchor="middle" font-weight="normal" fill="#1a1a1a" >0.0</text>
<text x="312.55" y="156.80" font-size="10.4" text-anchor="middle" font-weight="normal" fill="#1a1a1a" >0.5</text>
<text x="344.90" y="156.80" font-size="10.4" text-anchor="middle" font-weight="normal" fill="#1a1a1a" >1.0</text>
<text x="377.25" y="156.80" font-size="10.4" text-anchor="middle" font-weight="normal" fill="#1a1a1a" >1.5</text>
<text x="409.60" y="156.80" font-size="10.4" text-anchor="middle" font-weight="normal" fill="#1a1a1a" >2.0</text>
<text x="441.95" y="156.80" font-size="10.4" text-anchor="middle" font-weight="normal" fill="#1a1a1a" >2.5</text>
<text x="360.60" y="168.80" font-size="10.85" text-anchor="middle" font-weight="normal" fill="#1a1a1a" >Concentration (mM)</text>
<text x="0" y="0" font-size="10.85" text-anchor="middle" font-weight="normal" fill="#1a1a1a" transform="translate(242.00,83.60) rotate(-90)">Absorbance (a.u.)</text>
<text x="317.20" y="118.30" font-size="9.45" text-anchor="start" font-weight="bold" fill="#1a1a1a" >Abs.=0.6845C(mM)+0.0557</text>
<text x="317.20" y="130.20" font-size="9.45" text-anchor="start" font-weight="bold" fill="#1a1a1a" >R<tspan font-size="6.43" dy="-3.78">2</tspan><tspan dy="3.78">=0.9934</tspan></text>
<rect x="270.50" y="7.85" width="180.55" height="134.95" fill="none" stroke="#1a1a1a" stroke-width="1.2"/>
<text x="463.70" y="11.40" font-size="12.5" text-anchor="start" font-weight="bold" fill="#1a1a1a" >(c)</text>
<defs><filter id="blur1" x="-5%" y="-5%" width="110%" height="110%"><feGaussianBlur stdDeviation="0.9"/></filter><filter id="blur2" x="-5%" y="-5%" width="110%" height="110%"><feGaussianBlur stdDeviation="0.5"/></filter><clipPath id="cphoto"><rect x="510.8" y="14.6" width="141.4" height="51.8"/></clipPath></defs>
<defs><radialGradient id="fanr" gradientUnits="userSpaceOnUse" cx="577" cy="70" r="95"><stop offset="0" stop-color="#f2f2f2"/><stop offset="0.25" stop-color="#eceeee"/><stop offset="0.36" stop-color="#c9c8cf"/><stop offset="0.46" stop-color="#a3a0ad"/><stop offset="0.56" stop-color="#aeacb7"/><stop offset="0.66" stop-color="#d7dbdb"/><stop offset="0.8" stop-color="#e2e8e6"/><stop offset="1" stop-color="#dde4e2"/></radialGradient></defs>
<g clip-path="url(#cphoto)"><g filter="url(#blur1)">
<rect x="505" y="10" width="152" height="60" fill="url(#fanr)"/>
<polygon points="510,51 528,45 546,41 557,48 551,58 530,60 510,58" fill="#7f848e" opacity="0.9"/>
<polygon points="520,42 536,32 552,25 566,21 568,28 556,32 542,39 528,47" fill="#948f9f" opacity="0.85"/>
<polygon points="554.0,30.2 545.0,14.6 568.1,6.6 570.6,24.4" fill="#a29fac" opacity="0.5"/>
<polygon points="587.3,41.8 597.5,13.6 611.4,20.9 594.2,45.4" fill="#a9a7b3" opacity="0.6"/>
<polygon points="594.2,45.4 612.6,19.2 625.9,31.8 600.6,51.5" fill="#a2a1ad" opacity="0.6"/>
<polygon points="522.0,70.0 482.0,70.0 487.7,37.5 525.3,51.2" fill="#e8f0ec" opacity="0.8"/>
<polygon points="624.6,42.5 659.3,22.5 672.0,70.0 632.0,70.0" fill="#d6dedb" opacity="0.8"/>
<line x1="561.2" y1="67.8" x2="478.0" y2="56.1" stroke="#fbfcfc" stroke-width="1.5" opacity="0.9"/>
<line x1="562.3" y1="63.7" x2="484.9" y2="30.9" stroke="#fbfcfc" stroke-width="1.5" opacity="0.9"/>
<line x1="565.1" y1="59.3" x2="502.7" y2="3.1" stroke="#fbfcfc" stroke-width="1.5" opacity="0.9"/>
<line x1="569.0" y1="56.1" x2="527.0" y2="-16.6" stroke="#fbfcfc" stroke-width="1.5" opacity="0.9"/>
<line x1="573.7" y1="54.3" x2="556.2" y2="-27.8" stroke="#fbfcfc" stroke-width="1.5" opacity="0.9"/>
<line x1="578.1" y1="54.0" x2="584.0" y2="-29.8" stroke="#fbfcfc" stroke-width="1.5" opacity="0.9"/>
<line x1="582.5" y1="55.0" x2="611.2" y2="-24.0" stroke="#fbfcfc" stroke-width="1.5" opacity="0.9"/>
<line x1="586.2" y1="56.9" x2="634.4" y2="-11.9" stroke="#fbfcfc" stroke-width="1.5" opacity="0.9"/>
<line x1="589.6" y1="60.1" x2="655.8" y2="8.4" stroke="#fbfcfc" stroke-width="1.5" opacity="0.9"/>
<line x1="591.8" y1="64.0" x2="669.7" y2="32.5" stroke="#fbfcfc" stroke-width="1.5" opacity="0.9"/>
<ellipse cx="641" cy="30" rx="5" ry="3.5" fill="#ffffff"/>
<ellipse cx="634" cy="42" rx="4" ry="2.5" fill="#ffffff"/>
<ellipse cx="566" cy="46" rx="8" ry="6" fill="#ffffff" opacity="0.8"/>
<polygon points="505,56 530,58 548,62 555,70 505,70" fill="#f2f5f5"/>
<defs><linearGradient id="brw" x1="0" y1="1" x2="1" y2="0"><stop offset="0" stop-color="#6f6264"/><stop offset="0.5" stop-color="#978a8c"/><stop offset="1" stop-color="#c9c1c1"/></linearGradient></defs>
<polygon points="556,66 559,60.5 572,55.5 588,50.5 598,49 594,55 580,61 566,67" fill="url(#brw)"/>
<ellipse cx="600" cy="56" rx="8" ry="5" fill="#f4f6f6" opacity="0.9"/>
<ellipse cx="572" cy="50" rx="9" ry="4" fill="#ffffff" opacity="0.9"/>
<polygon points="605.5,61 609,55.5 632,43.2 654,55 654,63.5 612,67.5 606,65.5" fill="#2a93a0"/>
<polygon points="610,60 612.5,56.5 632,45.8 651,56.5 651,61.5 614,65" fill="#161c3c"/>
<line x1="612" y1="54" x2="632" y2="43" stroke="#f4f6f6" stroke-width="1.2"/>
</g></g>
<text x="549.70" y="63.70" font-size="8.6" text-anchor="middle" font-weight="bold" fill="#111" >1</text>
<text x="559.90" y="57.80" font-size="8.6" text-anchor="middle" font-weight="bold" fill="#111" >2</text>
<text x="569.10" y="52.70" font-size="8.6" text-anchor="middle" font-weight="bold" fill="#111" >3</text>
<text x="577.70" y="48.40" font-size="8.6" text-anchor="middle" font-weight="bold" fill="#111" >4</text>
<text x="586.90" y="48.00" font-size="8.6" text-anchor="middle" font-weight="bold" fill="#111" >5</text>
<text x="595.60" y="52.00" font-size="8.6" text-anchor="middle" font-weight="bold" fill="#111" >6</text>
<text x="603.80" y="57.60" font-size="8.6" text-anchor="middle" font-weight="bold" fill="#111" >7</text>
<text x="612.40" y="63.30" font-size="8.6" text-anchor="middle" font-weight="bold" fill="#111" >8</text>
<rect x="508.80" y="138.74" width="13.6" height="3.16" fill="#2d6461" stroke="#1d3b39" stroke-width="0.7"/>
<rect x="531.13" y="140.00" width="13.6" height="1.90" fill="#2d6461" stroke="#1d3b39" stroke-width="0.7"/>
<rect x="553.46" y="140.89" width="13.6" height="1.01" fill="#2d6461" stroke="#1d3b39" stroke-width="0.7"/>
<rect x="575.79" y="140.38" width="13.6" height="1.52" fill="#2d6461" stroke="#1d3b39" stroke-width="0.7"/>
<rect x="598.12" y="141.27" width="13.6" height="0.63" fill="#2d6461" stroke="#1d3b39" stroke-width="0.7"/>
<rect x="620.45" y="141.14" width="13.6" height="0.76" fill="#2d6461" stroke="#1d3b39" stroke-width="0.7"/>
<rect x="642.78" y="140.76" width="13.6" height="1.14" fill="#2d6461" stroke="#1d3b39" stroke-width="0.7"/>
<rect x="665.11" y="15.40" width="13.6" height="126.50" fill="#2d6461" stroke="#1d3b39" stroke-width="0.7"/>
<line x1="671.91" y1="13.88" x2="671.91" y2="16.92" stroke="#111" stroke-width="0.9"/>
<line x1="670.41" y1="13.88" x2="673.41" y2="13.88" stroke="#111" stroke-width="0.9"/>
<text x="0" y="0" font-size="9.3" font-weight="bold" fill="#111" transform="translate(512.80,71.6) rotate(90)">Dopamine</text>
<text x="0" y="0" font-size="9.3" font-weight="bold" fill="#111" transform="translate(535.00,71.6) rotate(90)">Uric acid</text>
<text x="0" y="0" font-size="9.3" font-weight="bold" fill="#111" transform="translate(557.20,71.6) rotate(90)">Ascorbic acid</text>
<text x="0" y="0" font-size="9.3" font-weight="bold" fill="#111" transform="translate(579.50,71.6) rotate(90)">Glucose</text>
<text x="0" y="0" font-size="9.3" font-weight="bold" fill="#111" transform="translate(601.70,71.6) rotate(90)"><tspan font-style="italic">L</tspan>-cysteine</text>
<text x="0" y="0" font-size="9.3" font-weight="bold" fill="#111" transform="translate(624.00,71.6) rotate(90)">Serine</text>
<text x="0" y="0" font-size="9.3" font-weight="bold" fill="#111" transform="translate(646.30,71.6) rotate(90)">Urea</text>
<text x="0" y="0" font-size="10.6" fill="#0a0a0a" stroke="#0a0a0a" stroke-width="0.25" transform="translate(667.9,75.9) rotate(90)">H<tspan font-size="7.21" dy="1.27">2</tspan><tspan dy="-1.27">O</tspan><tspan font-size="7.21" dy="1.27">2</tspan></text>
<line x1="501.35" y1="141.90" x2="504.55" y2="141.90" stroke="#1a1a1a" stroke-width="1.15"/>
<line x1="501.35" y1="116.60" x2="504.55" y2="116.60" stroke="#1a1a1a" stroke-width="1.15"/>
<line x1="501.35" y1="91.30" x2="504.55" y2="91.30" stroke="#1a1a1a" stroke-width="1.15"/>
<line x1="501.35" y1="66.00" x2="504.55" y2="66.00" stroke="#1a1a1a" stroke-width="1.15"/>
<line x1="501.35" y1="40.70" x2="504.55" y2="40.70" stroke="#1a1a1a" stroke-width="1.15"/>
<line x1="501.35" y1="15.40" x2="504.55" y2="15.40" stroke="#1a1a1a" stroke-width="1.15"/>
<line x1="502.35" y1="129.25" x2="504.55" y2="129.25" stroke="#1a1a1a" stroke-width="1.15"/>
<line x1="502.35" y1="103.95" x2="504.55" y2="103.95" stroke="#1a1a1a" stroke-width="1.15"/>
<line x1="502.35" y1="78.65" x2="504.55" y2="78.65" stroke="#1a1a1a" stroke-width="1.15"/>
<line x1="502.35" y1="53.35" x2="504.55" y2="53.35" stroke="#1a1a1a" stroke-width="1.15"/>
<line x1="502.35" y1="28.05" x2="504.55" y2="28.05" stroke="#1a1a1a" stroke-width="1.15"/>
<text x="500.05" y="145.60" font-size="10.4" text-anchor="end" font-weight="normal" fill="#1a1a1a" >0</text>
<text x="500.05" y="120.30" font-size="10.4" text-anchor="end" font-weight="normal" fill="#1a1a1a" >20</text>
<text x="500.05" y="95.00" font-size="10.4" text-anchor="end" font-weight="normal" fill="#1a1a1a" >40</text>
<text x="500.05" y="69.70" font-size="10.4" text-anchor="end" font-weight="normal" fill="#1a1a1a" >60</text>
<text x="500.05" y="44.40" font-size="10.4" text-anchor="end" font-weight="normal" fill="#1a1a1a" >80</text>
<text x="500.05" y="19.10" font-size="10.4" text-anchor="end" font-weight="normal" fill="#1a1a1a" >100</text>
<line x1="515.60" y1="141.76" x2="515.60" y2="144.96" stroke="#1a1a1a" stroke-width="1.15"/>
<line x1="537.93" y1="141.76" x2="537.93" y2="144.96" stroke="#1a1a1a" stroke-width="1.15"/>
<line x1="560.26" y1="141.76" x2="560.26" y2="144.96" stroke="#1a1a1a" stroke-width="1.15"/>
<line x1="582.59" y1="141.76" x2="582.59" y2="144.96" stroke="#1a1a1a" stroke-width="1.15"/>
<line x1="604.92" y1="141.76" x2="604.92" y2="144.96" stroke="#1a1a1a" stroke-width="1.15"/>
<line x1="627.25" y1="141.76" x2="627.25" y2="144.96" stroke="#1a1a1a" stroke-width="1.15"/>
<line x1="649.58" y1="141.76" x2="649.58" y2="144.96" stroke="#1a1a1a" stroke-width="1.15"/>
<line x1="671.91" y1="141.76" x2="671.91" y2="144.96" stroke="#1a1a1a" stroke-width="1.15"/>
<line x1="526.76" y1="141.76" x2="526.76" y2="143.96" stroke="#1a1a1a" stroke-width="1.15"/>
<line x1="549.10" y1="141.76" x2="549.10" y2="143.96" stroke="#1a1a1a" stroke-width="1.15"/>
<line x1="571.42" y1="141.76" x2="571.42" y2="143.96" stroke="#1a1a1a" stroke-width="1.15"/>
<line x1="593.75" y1="141.76" x2="593.75" y2="143.96" stroke="#1a1a1a" stroke-width="1.15"/>
<line x1="616.09" y1="141.76" x2="616.09" y2="143.96" stroke="#1a1a1a" stroke-width="1.15"/>
<line x1="638.41" y1="141.76" x2="638.41" y2="143.96" stroke="#1a1a1a" stroke-width="1.15"/>
<line x1="660.75" y1="141.76" x2="660.75" y2="143.96" stroke="#1a1a1a" stroke-width="1.15"/>
<text x="515.60" y="156.80" font-size="10.4" text-anchor="middle" font-weight="normal" fill="#1a1a1a" >1</text>
<text x="537.93" y="156.80" font-size="10.4" text-anchor="middle" font-weight="normal" fill="#1a1a1a" >2</text>
<text x="560.26" y="156.80" font-size="10.4" text-anchor="middle" font-weight="normal" fill="#1a1a1a" >3</text>
<text x="582.59" y="156.80" font-size="10.4" text-anchor="middle" font-weight="normal" fill="#1a1a1a" >4</text>
<text x="604.92" y="156.80" font-size="10.4" text-anchor="middle" font-weight="normal" fill="#1a1a1a" >5</text>
<text x="627.25" y="156.80" font-size="10.4" text-anchor="middle" font-weight="normal" fill="#1a1a1a" >6</text>
<text x="649.58" y="156.80" font-size="10.4" text-anchor="middle" font-weight="normal" fill="#1a1a1a" >7</text>
<text x="671.91" y="156.80" font-size="10.4" text-anchor="middle" font-weight="normal" fill="#1a1a1a" >8</text>
<text x="586.50" y="167.80" font-size="10.85" text-anchor="middle" font-weight="normal" fill="#1a1a1a" >Interfering substances</text>
<text x="0" y="0" font-size="11.1" text-anchor="middle" font-weight="normal" fill="#1a1a1a" transform="translate(476.20,76.00) rotate(-90)">Relative activity (%)</text>
<rect x="504.55" y="8.27" width="178.25" height="133.49" fill="none" stroke="#1a1a1a" stroke-width="1.2"/>
<text x="1.60" y="197.50" font-size="12.5" text-anchor="start" font-weight="bold" fill="#1a1a1a" >(d)</text>
<path d="M48.70,257.10 C48.88,256.17 49.27,253.25 49.80,251.50 C50.33,249.75 50.97,248.23 51.90,246.60 C52.83,244.97 53.87,243.45 55.40,241.70 C56.93,239.95 58.98,237.83 61.10,236.10 C63.22,234.37 64.98,233.17 68.10,231.30 C71.22,229.43 76.20,226.60 79.80,224.90 C83.40,223.20 86.33,222.23 89.70,221.10 C93.07,219.97 96.57,218.97 100.00,218.10 C103.43,217.23 106.48,216.48 110.30,215.90 C114.12,215.32 118.78,214.90 122.90,214.60 C127.02,214.30 128.82,214.25 135.00,214.10 C141.18,213.95 152.55,213.92 160.00,213.70 C167.45,213.48 173.97,213.23 179.70,212.80 C185.43,212.37 190.80,211.60 194.40,211.10 C198.00,210.60 199.48,210.30 201.30,209.80 C203.12,209.30 204.63,208.38 205.30,208.10" fill="none" stroke="#2a2a2a" stroke-width="1.0" stroke-linejoin="round" />
<path d="M205.30,208.10 C205.18,208.52 205.10,209.80 204.60,210.60 C204.10,211.40 204.00,211.95 202.30,212.90 C200.60,213.85 198.17,215.18 194.40,216.30 C190.63,217.42 185.43,218.55 179.70,219.60 C173.97,220.65 167.45,221.70 160.00,222.60 C152.55,223.50 141.18,224.45 135.00,225.00 C128.82,225.55 127.02,225.58 122.90,225.90 C118.78,226.22 114.12,226.52 110.30,226.90 C106.48,227.28 102.62,227.88 100.00,228.20 C97.38,228.52 96.32,228.53 94.60,228.80 C92.88,229.07 91.35,229.25 89.70,229.80 C88.05,230.35 86.35,231.02 84.70,232.10 C83.05,233.18 81.60,234.23 79.80,236.30 C78.00,238.37 75.62,242.22 73.90,244.50 C72.18,246.78 70.93,248.32 69.50,250.00 C68.07,251.68 66.70,253.48 65.30,254.60 C63.90,255.72 62.98,256.17 61.10,256.70 C59.22,257.23 56.07,257.73 54.00,257.80 C51.93,257.87 49.58,257.22 48.70,257.10" fill="none" stroke="#2a2a2a" stroke-width="1.0" stroke-linejoin="round" />
<path d="M48.90,269.10 C48.97,267.92 49.02,264.13 49.30,262.00 C49.58,259.87 49.93,258.52 50.60,256.30 C51.27,254.08 52.02,251.23 53.30,248.70 C54.58,246.17 56.53,243.30 58.30,241.10 C60.07,238.90 61.95,237.25 63.90,235.50 C65.85,233.75 67.35,232.33 70.00,230.60 C72.65,228.87 76.52,226.65 79.80,225.10 C83.08,223.55 86.33,222.43 89.70,221.30 C93.07,220.17 96.57,219.17 100.00,218.30 C103.43,217.43 106.48,216.67 110.30,216.10 C114.12,215.53 118.78,215.20 122.90,214.90 C127.02,214.60 128.82,214.62 135.00,214.30 C141.18,213.98 152.55,213.42 160.00,213.00 C167.45,212.58 173.97,212.30 179.70,211.80 C185.43,211.30 190.80,210.58 194.40,210.00 C198.00,209.42 199.48,208.87 201.30,208.30 C203.12,207.73 204.63,206.88 205.30,206.60" fill="none" stroke="#2f8a86" stroke-width="1.0" stroke-linejoin="round" />
<path d="M205.30,206.60 C205.22,206.97 205.47,207.93 204.80,208.80 C204.13,209.67 203.03,210.72 201.30,211.80 C199.57,212.88 198.00,214.08 194.40,215.30 C190.80,216.52 185.43,217.97 179.70,219.10 C173.97,220.23 167.45,221.07 160.00,222.10 C152.55,223.13 141.18,224.57 135.00,225.30 C128.82,226.03 127.02,226.08 122.90,226.50 C118.78,226.92 114.12,227.35 110.30,227.80 C106.48,228.25 102.62,228.80 100.00,229.20 C97.38,229.60 96.32,229.83 94.60,230.20 C92.88,230.57 91.35,230.92 89.70,231.40 C88.05,231.88 86.35,232.47 84.70,233.10 C83.05,233.73 81.43,234.35 79.80,235.20 C78.17,236.05 76.53,237.00 74.90,238.20 C73.27,239.40 71.60,240.52 70.00,242.40 C68.40,244.28 67.18,247.07 65.30,249.50 C63.42,251.93 60.62,254.65 58.70,257.00 C56.78,259.35 55.43,261.58 53.80,263.60 C52.17,265.62 49.72,268.18 48.90,269.10" fill="none" stroke="#2f8a86" stroke-width="1.0" stroke-linejoin="round" />
<path d="M48.90,316.00 C49.22,314.18 50.15,309.53 50.80,305.10 C51.45,300.67 51.98,294.32 52.80,289.40 C53.62,284.48 54.55,279.87 55.70,275.60 C56.85,271.33 58.22,267.43 59.70,263.80 C61.18,260.17 63.13,256.43 64.60,253.80 C66.07,251.17 67.22,249.82 68.50,248.00 C69.78,246.18 71.07,244.48 72.30,242.90 C73.53,241.32 74.65,240.10 75.90,238.50 C77.15,236.90 78.33,235.07 79.80,233.30 C81.27,231.53 83.05,229.47 84.70,227.90 C86.35,226.33 88.05,225.08 89.70,223.90 C91.35,222.72 92.88,221.78 94.60,220.80 C96.32,219.82 98.45,218.87 100.00,218.00 C101.55,217.13 102.18,216.37 103.90,215.60 C105.62,214.83 107.13,214.00 110.30,213.40 C113.47,212.80 118.78,212.33 122.90,212.00 C127.02,211.67 128.82,211.53 135.00,211.40 C141.18,211.27 154.20,211.28 160.00,211.20 C165.80,211.12 166.52,211.05 169.80,210.90 C173.08,210.75 176.42,210.60 179.70,210.30 C182.98,210.00 186.55,209.67 189.50,209.10 C192.45,208.53 195.27,207.60 197.40,206.90 C199.53,206.20 200.98,205.45 202.30,204.90 C203.62,204.35 204.80,203.82 205.30,203.60" fill="none" stroke="#e8336e" stroke-width="1.0" stroke-linejoin="round" />
<path d="M205.30,203.60 C205.22,203.93 205.47,204.55 204.80,205.60 C204.13,206.65 203.03,208.45 201.30,209.90 C199.57,211.35 198.00,212.62 194.40,214.30 C190.80,215.98 185.43,218.47 179.70,220.00 C173.97,221.53 167.45,222.43 160.00,223.50 C152.55,224.57 141.18,225.52 135.00,226.40 C128.82,227.28 127.02,227.87 122.90,228.80 C118.78,229.73 114.12,231.10 110.30,232.00 C106.48,232.90 102.62,233.58 100.00,234.20 C97.38,234.82 96.32,235.13 94.60,235.70 C92.88,236.27 91.35,236.78 89.70,237.60 C88.05,238.42 86.35,239.33 84.70,240.60 C83.05,241.87 81.18,243.63 79.80,245.20 C78.42,246.77 77.78,247.23 76.40,250.00 C75.02,252.77 73.30,257.53 71.50,261.80 C69.70,266.07 67.57,270.68 65.60,275.60 C63.63,280.52 61.67,286.38 59.70,291.30 C57.73,296.22 55.60,300.98 53.80,305.10 C52.00,309.22 49.72,314.18 48.90,316.00" fill="none" stroke="#e8336e" stroke-width="1.0" stroke-linejoin="round" />
<line x1="114.40" y1="274.40" x2="128.00" y2="274.40" stroke="#e8336e" stroke-width="1.1"/>
<text x="130.70" y="278.00" font-size="9.45" text-anchor="start" font-weight="bold" fill="#e8336e" >SA Co-MoS<tspan font-size="6.43" dy="2.08">2</tspan><tspan dy="-2.08">/GCE</tspan></text>
<line x1="114.40" y1="288.90" x2="128.00" y2="288.90" stroke="#2f8a86" stroke-width="1.1"/>
<text x="130.70" y="292.50" font-size="9.45" text-anchor="start" font-weight="bold" fill="#2f8a86" >MoS<tspan font-size="6.43" dy="2.08">2</tspan><tspan dy="-2.08">/GCE</tspan></text>
<line x1="114.40" y1="302.60" x2="128.00" y2="302.60" stroke="#444" stroke-width="1.4"/>
<text x="130.70" y="306.20" font-size="9.45" text-anchor="start" font-weight="bold" fill="#111" >Bare GCE</text>
<line x1="35.00" y1="198.44" x2="38.20" y2="198.44" stroke="#1a1a1a" stroke-width="1.15"/>
<line x1="35.00" y1="221.40" x2="38.20" y2="221.40" stroke="#1a1a1a" stroke-width="1.15"/>
<line x1="35.00" y1="244.36" x2="38.20" y2="244.36" stroke="#1a1a1a" stroke-width="1.15"/>
<line x1="35.00" y1="267.32" x2="38.20" y2="267.32" stroke="#1a1a1a" stroke-width="1.15"/>
<line x1="35.00" y1="290.28" x2="38.20" y2="290.28" stroke="#1a1a1a" stroke-width="1.15"/>
<line x1="35.00" y1="313.24" x2="38.20" y2="313.24" stroke="#1a1a1a" stroke-width="1.15"/>
<line x1="36.00" y1="209.92" x2="38.20" y2="209.92" stroke="#1a1a1a" stroke-width="1.15"/>
<line x1="36.00" y1="232.88" x2="38.20" y2="232.88" stroke="#1a1a1a" stroke-width="1.15"/>
<line x1="36.00" y1="255.84" x2="38.20" y2="255.84" stroke="#1a1a1a" stroke-width="1.15"/>
<line x1="36.00" y1="278.80" x2="38.20" y2="278.80" stroke="#1a1a1a" stroke-width="1.15"/>
<line x1="36.00" y1="301.76" x2="38.20" y2="301.76" stroke="#1a1a1a" stroke-width="1.15"/>
<line x1="36.00" y1="324.72" x2="38.20" y2="324.72" stroke="#1a1a1a" stroke-width="1.15"/>
<text x="33.70" y="202.14" font-size="10.4" text-anchor="end" font-weight="normal" fill="#1a1a1a" >4</text>
<text x="33.70" y="225.10" font-size="10.4" text-anchor="end" font-weight="normal" fill="#1a1a1a" >0</text>
<text x="27.92" y="248.06" font-size="10.4" text-anchor="start" font-weight="normal" fill="#1a1a1a" >4</text>
<rect x="19.28" y="244.15" width="7.49" height="0.85" fill="#1a1a1a"/>
<text x="27.92" y="271.02" font-size="10.4" text-anchor="start" font-weight="normal" fill="#1a1a1a" >8</text>
<rect x="19.28" y="267.11" width="7.49" height="0.85" fill="#1a1a1a"/>
<text x="22.13" y="293.98" font-size="10.4" text-anchor="start" font-weight="normal" fill="#1a1a1a" >12</text>
<rect x="13.50" y="290.07" width="7.49" height="0.85" fill="#1a1a1a"/>
<text x="22.13" y="316.94" font-size="10.4" text-anchor="start" font-weight="normal" fill="#1a1a1a" >16</text>
<rect x="13.50" y="313.03" width="7.49" height="0.85" fill="#1a1a1a"/>
<line x1="60.20" y1="324.75" x2="60.20" y2="327.95" stroke="#1a1a1a" stroke-width="1.15"/>
<line x1="93.65" y1="324.75" x2="93.65" y2="327.95" stroke="#1a1a1a" stroke-width="1.15"/>
<line x1="127.10" y1="324.75" x2="127.10" y2="327.95" stroke="#1a1a1a" stroke-width="1.15"/>
<line x1="160.55" y1="324.75" x2="160.55" y2="327.95" stroke="#1a1a1a" stroke-width="1.15"/>
<line x1="194.00" y1="324.75" x2="194.00" y2="327.95" stroke="#1a1a1a" stroke-width="1.15"/>
<line x1="43.47" y1="324.75" x2="43.47" y2="326.95" stroke="#1a1a1a" stroke-width="1.15"/>
<line x1="76.92" y1="324.75" x2="76.92" y2="326.95" stroke="#1a1a1a" stroke-width="1.15"/>
<line x1="110.38" y1="324.75" x2="110.38" y2="326.95" stroke="#1a1a1a" stroke-width="1.15"/>
<line x1="143.82" y1="324.75" x2="143.82" y2="326.95" stroke="#1a1a1a" stroke-width="1.15"/>
<line x1="177.28" y1="324.75" x2="177.28" y2="326.95" stroke="#1a1a1a" stroke-width="1.15"/>
<line x1="210.72" y1="324.75" x2="210.72" y2="326.95" stroke="#1a1a1a" stroke-width="1.15"/>
<text x="52.97" y="338.80" font-size="10.4" text-anchor="start" font-weight="normal" fill="#1a1a1a" >0.6</text>
<rect x="44.34" y="334.89" width="7.49" height="0.85" fill="#1a1a1a"/>
<text x="86.42" y="338.80" font-size="10.4" text-anchor="start" font-weight="normal" fill="#1a1a1a" >0.3</text>
<rect x="77.79" y="334.89" width="7.49" height="0.85" fill="#1a1a1a"/>
<text x="127.10" y="338.80" font-size="10.4" text-anchor="middle" font-weight="normal" fill="#1a1a1a" >0.0</text>
<text x="160.55" y="338.80" font-size="10.4" text-anchor="middle" font-weight="normal" fill="#1a1a1a" >0.3</text>
<text x="194.00" y="338.80" font-size="10.4" text-anchor="middle" font-weight="normal" fill="#1a1a1a" >0.6</text>
<text x="127.40" y="352.60" font-size="10.85" text-anchor="middle" font-weight="normal" fill="#1a1a1a" >Potential (V <tspan font-style="italic">vs.</tspan> SCE)</text>
<text x="0" y="0" font-size="10.85" text-anchor="middle" font-weight="normal" fill="#1a1a1a" transform="translate(9.40,257.20) rotate(-90)">Current (µA)</text>
<rect x="38.20" y="192.70" width="178.30" height="132.05" fill="none" stroke="#1a1a1a" stroke-width="1.2"/>
<text x="237.20" y="197.50" font-size="12.5" text-anchor="start" font-weight="bold" fill="#1a1a1a" >(e)</text>
<polyline points="272.90,201.00 300.00,201.10 350.00,201.30 380.00,201.40 400.00,201.60 413.70,201.80 418.70,203.00 420.00,203.43 423.40,203.43 423.40,204.57 426.80,204.57 426.80,206.26 430.20,206.26 430.20,208.04 433.60,208.04 433.60,210.03 437.00,210.03 437.00,212.74 440.40,212.74 440.40,216.94 443.80,216.94 443.80,223.56 447.20,223.56 447.20,229.94 449.20,229.94 449.20,233.50" fill="none" stroke="#2f8a86" stroke-width="1.1" stroke-linejoin="round" />
<polyline points="272.90,201.10 300.00,201.50 325.50,202.20 350.00,203.20 367.10,204.20 380.00,205.10 388.40,208.10 392.00,210.36 394.90,210.36 394.90,212.28 397.80,212.28 397.80,214.31 400.70,214.31 400.70,217.00 403.60,217.00 403.60,219.90 406.50,219.90 406.50,222.80 409.40,222.80 409.40,225.83 412.30,225.83 412.30,229.18 415.20,229.18 415.20,232.84 418.10,232.84 418.10,236.78 421.00,236.78 421.00,240.83 423.90,240.83 423.90,245.10 426.80,245.10 426.80,249.72 429.70,249.72 429.70,254.68 432.60,254.68 432.60,264.01 435.50,264.01 435.50,274.17 438.40,274.17 438.40,282.37 441.30,282.37 441.30,290.01 444.20,290.01 444.20,297.78 447.10,297.78 447.10,307.38 449.20,307.38 449.20,313.50" fill="none" stroke="#e8336e" stroke-width="1.1" stroke-linejoin="round" />
<text x="418.20" y="221.60" font-size="7.7" text-anchor="start" font-weight="bold" fill="#2f8a86" >MoS<tspan font-size="5.24" dy="1.69">2</tspan></text>
<text x="400.90" y="315.00" font-size="7.6" text-anchor="start" font-weight="bold" fill="#e8336e" >SA Co-MoS<tspan font-size="5.17" dy="1.67">2</tspan></text>
<line x1="269.35" y1="197.70" x2="272.55" y2="197.70" stroke="#1a1a1a" stroke-width="1.15"/>
<line x1="269.35" y1="222.14" x2="272.55" y2="222.14" stroke="#1a1a1a" stroke-width="1.15"/>
<line x1="269.35" y1="246.58" x2="272.55" y2="246.58" stroke="#1a1a1a" stroke-width="1.15"/>
<line x1="269.35" y1="271.02" x2="272.55" y2="271.02" stroke="#1a1a1a" stroke-width="1.15"/>
<line x1="269.35" y1="295.46" x2="272.55" y2="295.46" stroke="#1a1a1a" stroke-width="1.15"/>
<line x1="269.35" y1="319.90" x2="272.55" y2="319.90" stroke="#1a1a1a" stroke-width="1.15"/>
<line x1="270.35" y1="209.92" x2="272.55" y2="209.92" stroke="#1a1a1a" stroke-width="1.15"/>
<line x1="270.35" y1="234.36" x2="272.55" y2="234.36" stroke="#1a1a1a" stroke-width="1.15"/>
<line x1="270.35" y1="258.80" x2="272.55" y2="258.80" stroke="#1a1a1a" stroke-width="1.15"/>
<line x1="270.35" y1="283.24" x2="272.55" y2="283.24" stroke="#1a1a1a" stroke-width="1.15"/>
<line x1="270.35" y1="307.68" x2="272.55" y2="307.68" stroke="#1a1a1a" stroke-width="1.15"/>
<text x="268.05" y="201.40" font-size="10.4" text-anchor="end" font-weight="normal" fill="#1a1a1a" >0</text>
<text x="262.27" y="225.84" font-size="10.4" text-anchor="start" font-weight="normal" fill="#1a1a1a" >5</text>
<rect x="253.63" y="221.93" width="7.49" height="0.85" fill="#1a1a1a"/>
<text x="256.48" y="250.28" font-size="10.4" text-anchor="start" font-weight="normal" fill="#1a1a1a" >10</text>
<rect x="247.85" y="246.37" width="7.49" height="0.85" fill="#1a1a1a"/>
<text x="256.48" y="274.72" font-size="10.4" text-anchor="start" font-weight="normal" fill="#1a1a1a" >15</text>
<rect x="247.85" y="270.81" width="7.49" height="0.85" fill="#1a1a1a"/>
<text x="256.48" y="299.16" font-size="10.4" text-anchor="start" font-weight="normal" fill="#1a1a1a" >20</text>
<rect x="247.85" y="295.25" width="7.49" height="0.85" fill="#1a1a1a"/>
<text x="256.48" y="323.60" font-size="10.4" text-anchor="start" font-weight="normal" fill="#1a1a1a" >25</text>
<rect x="247.85" y="319.69" width="7.49" height="0.85" fill="#1a1a1a"/>
<line x1="278.60" y1="324.10" x2="278.60" y2="327.30" stroke="#1a1a1a" stroke-width="1.15"/>
<line x1="315.75" y1="324.10" x2="315.75" y2="327.30" stroke="#1a1a1a" stroke-width="1.15"/>
<line x1="352.90" y1="324.10" x2="352.90" y2="327.30" stroke="#1a1a1a" stroke-width="1.15"/>
<line x1="390.05" y1="324.10" x2="390.05" y2="327.30" stroke="#1a1a1a" stroke-width="1.15"/>
<line x1="427.20" y1="324.10" x2="427.20" y2="327.30" stroke="#1a1a1a" stroke-width="1.15"/>
<line x1="297.18" y1="324.10" x2="297.18" y2="326.30" stroke="#1a1a1a" stroke-width="1.15"/>
<line x1="334.33" y1="324.10" x2="334.33" y2="326.30" stroke="#1a1a1a" stroke-width="1.15"/>
<line x1="371.48" y1="324.10" x2="371.48" y2="326.30" stroke="#1a1a1a" stroke-width="1.15"/>
<line x1="408.62" y1="324.10" x2="408.62" y2="326.30" stroke="#1a1a1a" stroke-width="1.15"/>
<line x1="445.78" y1="324.10" x2="445.78" y2="326.30" stroke="#1a1a1a" stroke-width="1.15"/>
<text x="278.60" y="338.80" font-size="10.4" text-anchor="middle" font-weight="normal" fill="#1a1a1a" >600</text>
<text x="315.75" y="338.80" font-size="10.4" text-anchor="middle" font-weight="normal" fill="#1a1a1a" >900</text>
<text x="352.90" y="338.80" font-size="10.4" text-anchor="middle" font-weight="normal" fill="#1a1a1a" >1200</text>
<text x="390.05" y="338.80" font-size="10.4" text-anchor="middle" font-weight="normal" fill="#1a1a1a" >1500</text>
<text x="427.20" y="338.80" font-size="10.4" text-anchor="middle" font-weight="normal" fill="#1a1a1a" >1800</text>
<text x="353.20" y="352.60" font-size="10.85" text-anchor="middle" font-weight="normal" fill="#1a1a1a" >Time (s)</text>
<text x="0" y="0" font-size="10.85" text-anchor="middle" font-weight="normal" fill="#1a1a1a" transform="translate(243.40,256.20) rotate(-90)">Current (µA)</text>
<rect x="272.55" y="192.55" width="176.95" height="131.55" fill="none" stroke="#1a1a1a" stroke-width="1.2"/>
<rect x="297.8" y="218.3" width="98.60" height="71.90" fill="#fff"/>
<circle cx="300.40" cy="224.00" r="1.2" fill="#2f8a86" stroke="#1f4f4c" stroke-width="0.4"/>
<circle cx="302.00" cy="224.07" r="1.2" fill="#2f8a86" stroke="#1f4f4c" stroke-width="0.4"/>
<circle cx="303.61" cy="224.13" r="1.2" fill="#2f8a86" stroke="#1f4f4c" stroke-width="0.4"/>
<circle cx="305.75" cy="224.22" r="1.2" fill="#2f8a86" stroke="#1f4f4c" stroke-width="0.4"/>
<circle cx="308.42" cy="224.33" r="1.2" fill="#2f8a86" stroke="#1f4f4c" stroke-width="0.4"/>
<circle cx="311.10" cy="224.44" r="1.2" fill="#2f8a86" stroke="#1f4f4c" stroke-width="0.4"/>
<circle cx="313.77" cy="224.55" r="1.2" fill="#2f8a86" stroke="#1f4f4c" stroke-width="0.4"/>
<circle cx="316.45" cy="224.66" r="1.2" fill="#2f8a86" stroke="#1f4f4c" stroke-width="0.4"/>
<circle cx="319.12" cy="224.77" r="1.2" fill="#2f8a86" stroke="#1f4f4c" stroke-width="0.4"/>
<circle cx="321.80" cy="224.88" r="1.2" fill="#2f8a86" stroke="#1f4f4c" stroke-width="0.4"/>
<circle cx="324.47" cy="224.99" r="1.2" fill="#2f8a86" stroke="#1f4f4c" stroke-width="0.4"/>
<circle cx="327.15" cy="225.10" r="1.2" fill="#2f8a86" stroke="#1f4f4c" stroke-width="0.4"/>
<circle cx="329.82" cy="225.21" r="1.2" fill="#2f8a86" stroke="#1f4f4c" stroke-width="0.4"/>
<circle cx="332.50" cy="225.32" r="1.2" fill="#2f8a86" stroke="#1f4f4c" stroke-width="0.4"/>
<circle cx="331.8" cy="225" r="1.3" fill="#2f8a86" stroke="#1f4f4c" stroke-width="0.4"/>
<circle cx="337.9" cy="225.9" r="1.3" fill="#2f8a86" stroke="#1f4f4c" stroke-width="0.4"/>
<circle cx="346.8" cy="227.7" r="1.3" fill="#2f8a86" stroke="#1f4f4c" stroke-width="0.4"/>
<circle cx="354.2" cy="228.8" r="1.3" fill="#2f8a86" stroke="#1f4f4c" stroke-width="0.4"/>
<circle cx="361.4" cy="229.3" r="1.3" fill="#2f8a86" stroke="#1f4f4c" stroke-width="0.4"/>
<circle cx="371" cy="228.8" r="1.3" fill="#2f8a86" stroke="#1f4f4c" stroke-width="0.4"/>
<circle cx="381.6" cy="230.6" r="1.3" fill="#2f8a86" stroke="#1f4f4c" stroke-width="0.4"/>
<circle cx="394" cy="233.8" r="1.3" fill="#2f8a86" stroke="#1f4f4c" stroke-width="0.4"/>
<circle cx="300.40" cy="224.50" r="1.2" fill="#e8336e"/>
<circle cx="302.00" cy="225.84" r="1.2" fill="#e8336e"/>
<circle cx="303.61" cy="227.17" r="1.2" fill="#e8336e"/>
<circle cx="305.75" cy="228.95" r="1.2" fill="#e8336e"/>
<circle cx="308.42" cy="231.18" r="1.2" fill="#e8336e"/>
<circle cx="311.10" cy="233.40" r="1.2" fill="#e8336e"/>
<circle cx="313.77" cy="235.62" r="1.2" fill="#e8336e"/>
<circle cx="316.45" cy="237.85" r="1.2" fill="#e8336e"/>
<circle cx="319.12" cy="240.07" r="1.2" fill="#e8336e"/>
<circle cx="321.80" cy="242.30" r="1.2" fill="#e8336e"/>
<circle cx="324.47" cy="244.53" r="1.2" fill="#e8336e"/>
<circle cx="327.15" cy="246.75" r="1.2" fill="#e8336e"/>
<circle cx="329.82" cy="248.97" r="1.2" fill="#e8336e"/>
<circle cx="332.50" cy="251.20" r="1.2" fill="#e8336e"/>
<circle cx="331.8" cy="250.8" r="1.3" fill="#e8336e"/>
<circle cx="336.7" cy="253.1" r="1.3" fill="#e8336e"/>
<circle cx="341.7" cy="255.3" r="1.3" fill="#e8336e"/>
<circle cx="346.8" cy="259.8" r="1.3" fill="#e8336e"/>
<circle cx="354.2" cy="263.6" r="1.3" fill="#e8336e"/>
<circle cx="361.4" cy="268.8" r="1.3" fill="#e8336e"/>
<circle cx="371" cy="273.7" r="1.3" fill="#e8336e"/>
<circle cx="381.6" cy="279.3" r="1.3" fill="#e8336e"/>
<circle cx="394" cy="284.9" r="1.3" fill="#e8336e"/>
<line x1="300.00" y1="224.10" x2="334.00" y2="225.50" stroke="#111" stroke-width="0.9"/>
<line x1="331.00" y1="225.20" x2="394.50" y2="233.60" stroke="#111" stroke-width="0.9"/>
<line x1="300.00" y1="224.50" x2="332.60" y2="251.40" stroke="#111" stroke-width="0.9"/>
<line x1="331.00" y1="250.20" x2="394.50" y2="285.30" stroke="#111" stroke-width="0.9"/>
<text x="0.00" y="0.00" font-size="7.2" text-anchor="start" font-weight="bold" fill="#2f8a86" transform="translate(309.0,233.8) rotate(2)">R<tspan font-size="5.76" dy="-2.74">2</tspan><tspan dy="2.74">=0.9208</tspan></text>
<text x="0.00" y="0.00" font-size="7.3" text-anchor="start" font-weight="bold" fill="#2f8a86" font-style="italic" transform="translate(347.7,238.6) rotate(6.4)">R<tspan font-size="5.84" dy="-2.77">2</tspan><tspan dy="2.77">=0.9490</tspan></text>
<text x="0.00" y="0.00" font-size="7.2" text-anchor="start" font-weight="bold" fill="#e8336e" font-style="italic" transform="translate(301.4,240.4) rotate(35)">R<tspan font-size="5.76" dy="-2.74">2</tspan><tspan dy="2.74">=0.9957</tspan></text>
<text x="0.00" y="0.00" font-size="7.3" text-anchor="start" font-weight="bold" fill="#e8336e" font-style="italic" transform="translate(337.8,267.2) rotate(24)">R<tspan font-size="5.84" dy="-2.77">2</tspan><tspan dy="2.77">=0.9935</tspan></text>
<circle cx="304.8" cy="272.8" r="1.4" fill="#2f8a86"/>
<text x="307.80" y="275.90" font-size="7.6" text-anchor="start" font-weight="bold" fill="#2f8a86" >MoS<tspan font-size="5.17" dy="1.67">2</tspan></text>
<circle cx="304.8" cy="284.3" r="1.4" fill="#e8336e"/>
<text x="307.80" y="287.50" font-size="7.6" text-anchor="start" font-weight="bold" fill="#e8336e" >SA Co-MoS<tspan font-size="5.17" dy="1.67">2</tspan></text>
<line x1="295.80" y1="224.00" x2="297.80" y2="224.00" stroke="#333" stroke-width="1.15"/>
<line x1="295.80" y1="238.64" x2="297.80" y2="238.64" stroke="#333" stroke-width="1.15"/>
<line x1="295.80" y1="253.28" x2="297.80" y2="253.28" stroke="#333" stroke-width="1.15"/>
<line x1="295.80" y1="267.92" x2="297.80" y2="267.92" stroke="#333" stroke-width="1.15"/>
<line x1="295.80" y1="282.56" x2="297.80" y2="282.56" stroke="#333" stroke-width="1.15"/>
<line x1="296.60" y1="231.32" x2="297.80" y2="231.32" stroke="#333" stroke-width="1.15"/>
<line x1="296.60" y1="245.96" x2="297.80" y2="245.96" stroke="#333" stroke-width="1.15"/>
<line x1="296.60" y1="260.60" x2="297.80" y2="260.60" stroke="#333" stroke-width="1.15"/>
<line x1="296.60" y1="275.24" x2="297.80" y2="275.24" stroke="#333" stroke-width="1.15"/>
<text x="294.80" y="226.70" font-size="7.6" text-anchor="end" font-weight="normal" fill="#1a1a1a" >0</text>
<text x="290.57" y="241.34" font-size="7.6" text-anchor="start" font-weight="normal" fill="#1a1a1a" >4</text>
<rect x="285.56" y="238.37" width="4.26" height="0.85" fill="#1a1a1a"/>
<text x="290.57" y="255.98" font-size="7.6" text-anchor="start" font-weight="normal" fill="#1a1a1a" >8</text>
<rect x="285.56" y="253.01" width="4.26" height="0.85" fill="#1a1a1a"/>
<text x="286.35" y="270.62" font-size="7.6" text-anchor="start" font-weight="normal" fill="#1a1a1a" >12</text>
<rect x="281.33" y="267.65" width="4.26" height="0.85" fill="#1a1a1a"/>
<text x="286.35" y="285.26" font-size="7.6" text-anchor="start" font-weight="normal" fill="#1a1a1a" >16</text>
<rect x="281.33" y="282.29" width="4.26" height="0.85" fill="#1a1a1a"/>
<line x1="300.40" y1="290.20" x2="300.40" y2="292.20" stroke="#333" stroke-width="1.15"/>
<line x1="321.80" y1="290.20" x2="321.80" y2="292.20" stroke="#333" stroke-width="1.15"/>
<line x1="343.20" y1="290.20" x2="343.20" y2="292.20" stroke="#333" stroke-width="1.15"/>
<line x1="364.60" y1="290.20" x2="364.60" y2="292.20" stroke="#333" stroke-width="1.15"/>
<line x1="386.00" y1="290.20" x2="386.00" y2="292.20" stroke="#333" stroke-width="1.15"/>
<line x1="311.10" y1="290.20" x2="311.10" y2="291.40" stroke="#333" stroke-width="1.15"/>
<line x1="332.50" y1="290.20" x2="332.50" y2="291.40" stroke="#333" stroke-width="1.15"/>
<line x1="353.90" y1="290.20" x2="353.90" y2="291.40" stroke="#333" stroke-width="1.15"/>
<line x1="375.30" y1="290.20" x2="375.30" y2="291.40" stroke="#333" stroke-width="1.15"/>
<text x="300.40" y="300.00" font-size="7.8" text-anchor="middle" font-weight="normal" fill="#1a1a1a" >0</text>
<text x="321.80" y="300.00" font-size="7.8" text-anchor="middle" font-weight="normal" fill="#1a1a1a" >4</text>
<text x="343.20" y="300.00" font-size="7.8" text-anchor="middle" font-weight="normal" fill="#1a1a1a" >8</text>
<text x="364.60" y="300.00" font-size="7.8" text-anchor="middle" font-weight="normal" fill="#1a1a1a" >12</text>
<text x="386.00" y="300.00" font-size="7.8" text-anchor="middle" font-weight="normal" fill="#1a1a1a" >16</text>
<text x="345.90" y="308.40" font-size="7.45" text-anchor="middle" font-weight="normal" fill="#1a1a1a" >Concentration (mM)</text>
<text x="0" y="0" font-size="7.8" text-anchor="middle" font-weight="normal" fill="#1a1a1a" transform="translate(280.20,254.80) rotate(-90)">Current (µA)</text>
<rect x="297.8" y="218.3" width="98.60" height="71.90" fill="none" stroke="#9a9a9a" stroke-width="1.3"/>
<text x="465.90" y="197.50" font-size="12.5" text-anchor="start" font-weight="bold" fill="#1a1a1a" >(f)</text>
<polyline points="504.55,240.80 528.80,240.80 528.80,248.70 540.00,249.00 555.00,249.60 565.00,250.00 577.20,250.30 577.20,263.40 585.00,263.10 595.00,262.90 605.00,263.50 615.00,263.80 625.20,264.00 625.20,275.40 640.00,275.50 650.00,276.00 660.00,275.60 673.20,276.40 673.20,284.70 682.45,284.70" fill="none" stroke="#e8321f" stroke-width="1.65" stroke-linejoin="round" stroke-linejoin="miter"/>
<text x="518.00" y="219.00" font-size="8.2" text-anchor="start" font-weight="bold" fill="#6b4bd6" >H<tspan font-size="5.58" dy="1.80">2</tspan><tspan dy="-1.80">O</tspan><tspan font-size="5.58" dy="1.80">2</tspan></text>
<line x1="528.10" y1="222.40" x2="528.10" y2="234.40" stroke="#6b4bd6" stroke-width="0.9"/>
<polygon points="526.60,233.80 529.60,233.80 528.10,237.00" fill="#6b4bd6"/>
<text x="530.30" y="229.50" font-size="8.0" text-anchor="start" font-weight="bold" fill="#111" >fructose</text>
<line x1="547.60" y1="231.30" x2="547.60" y2="243.70" stroke="#111" stroke-width="0.9"/>
<polygon points="546.10,243.10 549.10,243.10 547.60,246.30" fill="#111"/>
<text x="565.20" y="230.00" font-size="8.0" text-anchor="start" font-weight="bold" fill="#111" >NaCl</text>
<line x1="568.10" y1="233.40" x2="568.10" y2="245.60" stroke="#111" stroke-width="0.9"/>
<polygon points="566.60,245.00 569.60,245.00 568.10,248.20" fill="#111"/>
<text x="519.80" y="273.10" font-size="8.0" text-anchor="start" font-weight="bold" fill="#111" >xylose</text>
<line x1="538.20" y1="267.00" x2="538.20" y2="254.00" stroke="#111" stroke-width="0.9"/>
<polygon points="536.70,254.60 539.70,254.60 538.20,251.40" fill="#111"/>
<text x="546.00" y="276.00" font-size="8.0" text-anchor="start" font-weight="bold" fill="#111" >sucrose</text>
<line x1="558.90" y1="269.40" x2="558.90" y2="255.20" stroke="#111" stroke-width="0.9"/>
<polygon points="557.40,255.80 560.40,255.80 558.90,252.60" fill="#111"/>
<text x="571.50" y="246.00" font-size="8.0" text-anchor="start" font-weight="bold" fill="#111" >arginine</text>
<line x1="587.60" y1="248.00" x2="587.60" y2="260.00" stroke="#111" stroke-width="0.9"/>
<polygon points="586.10,259.40 589.10,259.40 587.60,262.60" fill="#111"/>
<text x="565.60" y="289.20" font-size="8.2" text-anchor="start" font-weight="bold" fill="#6b4bd6" >H<tspan font-size="5.58" dy="1.80">2</tspan><tspan dy="-1.80">O</tspan><tspan font-size="5.58" dy="1.80">2</tspan></text>
<line x1="577.50" y1="283.20" x2="577.50" y2="268.80" stroke="#6b4bd6" stroke-width="0.9"/>
<polygon points="576.00,269.40 579.00,269.40 577.50,266.20" fill="#6b4bd6"/>
<text x="587.60" y="287.60" font-size="8.0" text-anchor="start" font-weight="bold" fill="#111" >AA</text>
<line x1="596.80" y1="281.80" x2="596.80" y2="268.40" stroke="#111" stroke-width="0.9"/>
<polygon points="595.30,269.00 598.30,269.00 596.80,265.80" fill="#111"/>
<text x="599.60" y="238.00" font-size="8.0" text-anchor="start" font-weight="bold" fill="#111" >serine</text>
<line x1="607.70" y1="240.20" x2="607.70" y2="259.30" stroke="#111" stroke-width="0.9"/>
<polygon points="606.20,258.70 609.20,258.70 607.70,261.90" fill="#111"/>
<text x="620.80" y="246.70" font-size="8.2" text-anchor="start" font-weight="bold" fill="#6b4bd6" >H<tspan font-size="5.58" dy="1.80">2</tspan><tspan dy="-1.80">O</tspan><tspan font-size="5.58" dy="1.80">2</tspan></text>
<line x1="625.90" y1="248.50" x2="625.90" y2="260.10" stroke="#6b4bd6" stroke-width="0.9"/>
<polygon points="624.40,259.50 627.40,259.50 625.90,262.70" fill="#6b4bd6"/>
<text x="593.90" y="296.30" font-size="8.0" text-anchor="start" font-weight="bold" fill="#111" >mannose</text>
<line x1="616.00" y1="290.50" x2="616.00" y2="269.50" stroke="#111" stroke-width="0.9"/>
<polygon points="614.50,270.10 617.50,270.10 616.00,266.90" fill="#111"/>
<text x="638.00" y="258.80" font-size="8.0" text-anchor="start" font-weight="bold" fill="#111" >DA</text>
<line x1="645.10" y1="260.50" x2="645.10" y2="271.80" stroke="#111" stroke-width="0.9"/>
<polygon points="643.60,271.20 646.60,271.20 645.10,274.40" fill="#111"/>
<text x="653.70" y="258.80" font-size="8.0" text-anchor="start" font-weight="bold" fill="#111" >lactose</text>
<line x1="663.80" y1="260.50" x2="663.80" y2="271.80" stroke="#111" stroke-width="0.9"/>
<polygon points="662.30,271.20 665.30,271.20 663.80,274.40" fill="#111"/>
<text x="619.50" y="302.10" font-size="8.0" text-anchor="start" font-weight="bold" fill="#111" >cysteine</text>
<line x1="635.80" y1="292.40" x2="635.80" y2="280.70" stroke="#111" stroke-width="0.9"/>
<polygon points="634.30,281.30 637.30,281.30 635.80,278.10" fill="#111"/>
<text x="653.30" y="302.20" font-size="8.0" text-anchor="start" font-weight="bold" fill="#111" >UA</text>
<line x1="655.50" y1="296.40" x2="655.50" y2="282.30" stroke="#111" stroke-width="0.9"/>
<polygon points="654.00,282.90 657.00,282.90 655.50,279.70" fill="#111"/>
<text x="662.80" y="311.30" font-size="8.2" text-anchor="start" font-weight="bold" fill="#6b4bd6" >H<tspan font-size="5.58" dy="1.80">2</tspan><tspan dy="-1.80">O</tspan><tspan font-size="5.58" dy="1.80">2</tspan></text>
<line x1="675.00" y1="302.30" x2="675.00" y2="290.00" stroke="#6b4bd6" stroke-width="0.9"/>
<polygon points="673.50,290.60 676.50,290.60 675.00,287.40" fill="#6b4bd6"/>
<line x1="501.35" y1="200.31" x2="504.55" y2="200.31" stroke="#1a1a1a" stroke-width="1.15"/>
<line x1="501.35" y1="224.80" x2="504.55" y2="224.80" stroke="#1a1a1a" stroke-width="1.15"/>
<line x1="501.35" y1="249.30" x2="504.55" y2="249.30" stroke="#1a1a1a" stroke-width="1.15"/>
<line x1="501.35" y1="273.79" x2="504.55" y2="273.79" stroke="#1a1a1a" stroke-width="1.15"/>
<line x1="501.35" y1="298.28" x2="504.55" y2="298.28" stroke="#1a1a1a" stroke-width="1.15"/>
<line x1="501.35" y1="322.78" x2="504.55" y2="322.78" stroke="#1a1a1a" stroke-width="1.15"/>
<line x1="502.35" y1="212.55" x2="504.55" y2="212.55" stroke="#1a1a1a" stroke-width="1.15"/>
<line x1="502.35" y1="237.05" x2="504.55" y2="237.05" stroke="#1a1a1a" stroke-width="1.15"/>
<line x1="502.35" y1="261.54" x2="504.55" y2="261.54" stroke="#1a1a1a" stroke-width="1.15"/>
<line x1="502.35" y1="286.04" x2="504.55" y2="286.04" stroke="#1a1a1a" stroke-width="1.15"/>
<line x1="502.35" y1="310.53" x2="504.55" y2="310.53" stroke="#1a1a1a" stroke-width="1.15"/>
<text x="500.05" y="204.00" font-size="10.4" text-anchor="end" font-weight="normal" fill="#1a1a1a" >1.5</text>
<text x="500.05" y="228.50" font-size="10.4" text-anchor="end" font-weight="normal" fill="#1a1a1a" >0.0</text>
<text x="485.59" y="253.00" font-size="10.4" text-anchor="start" font-weight="normal" fill="#1a1a1a" >1.5</text>
<rect x="476.96" y="249.09" width="7.49" height="0.85" fill="#1a1a1a"/>
<text x="485.59" y="277.49" font-size="10.4" text-anchor="start" font-weight="normal" fill="#1a1a1a" >3.0</text>
<rect x="476.96" y="273.58" width="7.49" height="0.85" fill="#1a1a1a"/>
<text x="485.59" y="301.98" font-size="10.4" text-anchor="start" font-weight="normal" fill="#1a1a1a" >4.5</text>
<rect x="476.96" y="298.08" width="7.49" height="0.85" fill="#1a1a1a"/>
<text x="485.59" y="326.48" font-size="10.4" text-anchor="start" font-weight="normal" fill="#1a1a1a" >6.0</text>
<rect x="476.96" y="322.57" width="7.49" height="0.85" fill="#1a1a1a"/>
<line x1="528.60" y1="324.55" x2="528.60" y2="327.75" stroke="#1a1a1a" stroke-width="1.15"/>
<line x1="576.70" y1="324.55" x2="576.70" y2="327.75" stroke="#1a1a1a" stroke-width="1.15"/>
<line x1="624.80" y1="324.55" x2="624.80" y2="327.75" stroke="#1a1a1a" stroke-width="1.15"/>
<line x1="672.90" y1="324.55" x2="672.90" y2="327.75" stroke="#1a1a1a" stroke-width="1.15"/>
<line x1="552.65" y1="324.55" x2="552.65" y2="326.75" stroke="#1a1a1a" stroke-width="1.15"/>
<line x1="600.75" y1="324.55" x2="600.75" y2="326.75" stroke="#1a1a1a" stroke-width="1.15"/>
<line x1="648.85" y1="324.55" x2="648.85" y2="326.75" stroke="#1a1a1a" stroke-width="1.15"/>
<text x="528.60" y="339.00" font-size="10.4" text-anchor="middle" font-weight="normal" fill="#1a1a1a" >1000</text>
<text x="576.70" y="339.00" font-size="10.4" text-anchor="middle" font-weight="normal" fill="#1a1a1a" >1100</text>
<text x="624.80" y="339.00" font-size="10.4" text-anchor="middle" font-weight="normal" fill="#1a1a1a" >1200</text>
<text x="672.90" y="339.00" font-size="10.4" text-anchor="middle" font-weight="normal" fill="#1a1a1a" >1300</text>
<text x="597.90" y="352.60" font-size="10.85" text-anchor="middle" font-weight="normal" fill="#1a1a1a" >Time (s)</text>
<text x="0" y="0" font-size="10.85" text-anchor="middle" font-weight="normal" fill="#1a1a1a" transform="translate(473.90,262.10) rotate(-90)">Current (µA)</text>
<rect x="504.55" y="192.85" width="177.90" height="131.70" fill="none" stroke="#1a1a1a" stroke-width="1.2"/>
</svg></body></html>
